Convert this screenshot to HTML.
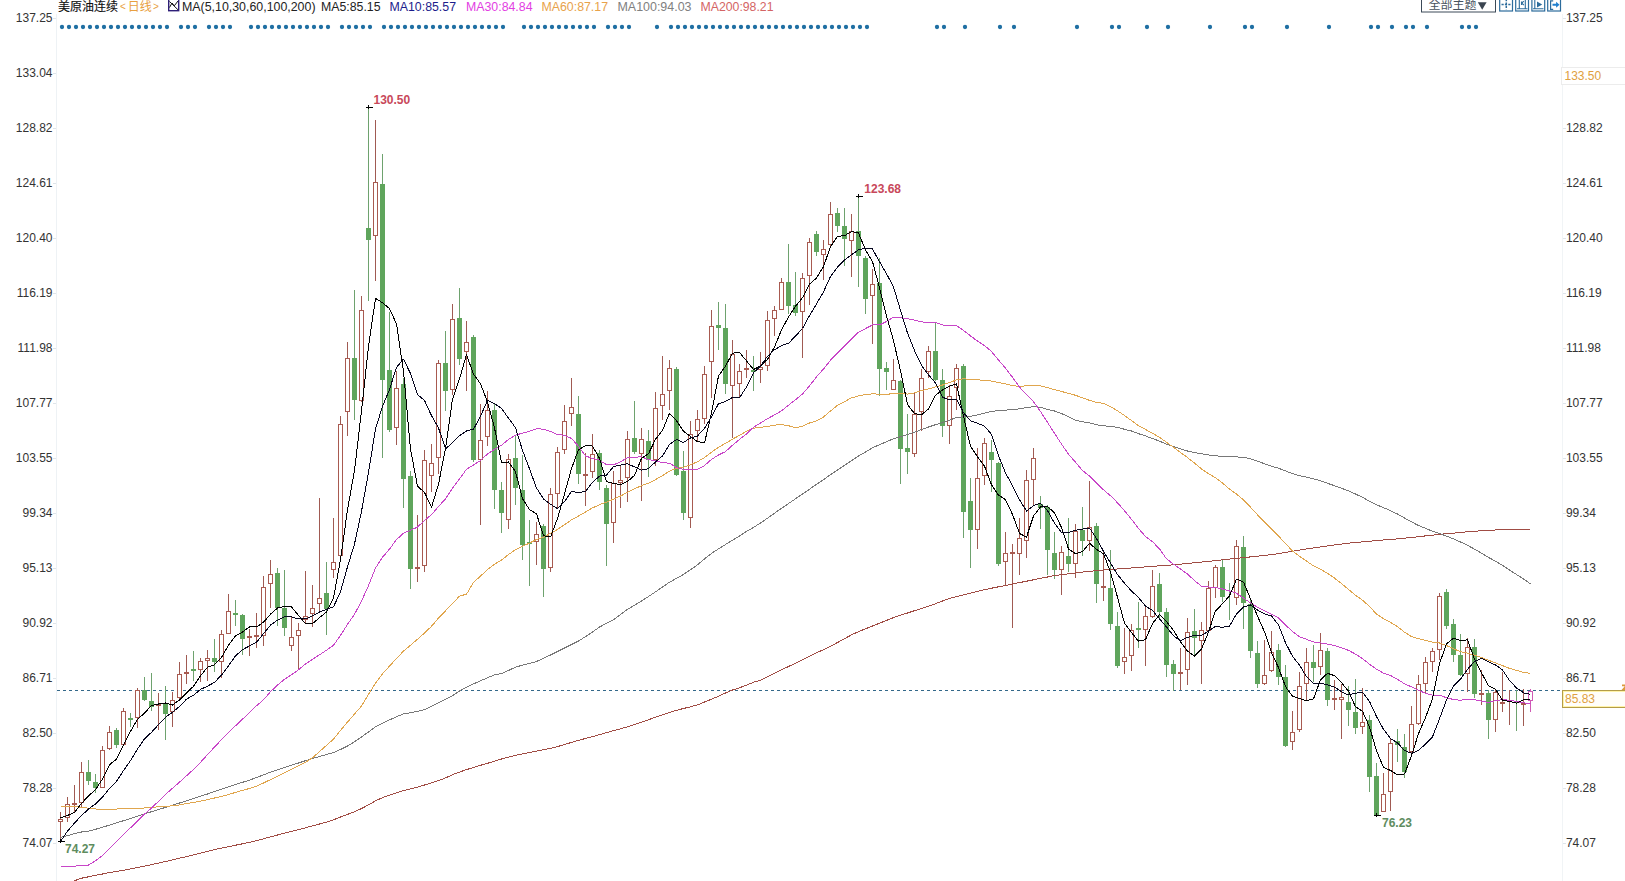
<!DOCTYPE html><html><head><meta charset="utf-8"><title>chart</title><style>
html,body{margin:0;padding:0;background:#fff;}body{width:1625px;height:881px;overflow:hidden;}svg{display:block;}
text{font-family:"Liberation Sans","Noto Sans CJK SC",sans-serif;font-size:12px;}
.ax{fill:#333;} .b{font-weight:bold;}
</style></head><body>
<svg width="1625" height="881" viewBox="0 0 1625 881">
<rect width="1625" height="881" fill="#fff"/>
<line x1="56.5" y1="14" x2="56.5" y2="881" stroke="#eef2f5" stroke-width="1"/>
<line x1="1562.5" y1="14" x2="1562.5" y2="881" stroke="#f1f4f6" stroke-width="1"/>
<text class="ax" x="52.5" y="22.3" text-anchor="end">137.25</text>
<line x1="53" y1="18.5" x2="56" y2="18.5" stroke="#dfe5ea"/>
<text class="ax" x="1565.9" y="22.3">137.25</text>
<line x1="1563" y1="18.5" x2="1566" y2="18.5" stroke="#dfe5ea"/>
<text class="ax" x="52.5" y="77.3" text-anchor="end">133.04</text>
<line x1="53" y1="73.5" x2="56" y2="73.5" stroke="#dfe5ea"/>
<text class="ax" x="52.5" y="132.3" text-anchor="end">128.82</text>
<line x1="53" y1="128.5" x2="56" y2="128.5" stroke="#dfe5ea"/>
<text class="ax" x="1565.9" y="132.3">128.82</text>
<line x1="1563" y1="128.5" x2="1566" y2="128.5" stroke="#dfe5ea"/>
<text class="ax" x="52.5" y="187.3" text-anchor="end">124.61</text>
<line x1="53" y1="183.5" x2="56" y2="183.5" stroke="#dfe5ea"/>
<text class="ax" x="1565.9" y="187.3">124.61</text>
<line x1="1563" y1="183.5" x2="1566" y2="183.5" stroke="#dfe5ea"/>
<text class="ax" x="52.5" y="242.3" text-anchor="end">120.40</text>
<line x1="53" y1="238.5" x2="56" y2="238.5" stroke="#dfe5ea"/>
<text class="ax" x="1565.9" y="242.3">120.40</text>
<line x1="1563" y1="238.5" x2="1566" y2="238.5" stroke="#dfe5ea"/>
<text class="ax" x="52.5" y="297.3" text-anchor="end">116.19</text>
<line x1="53" y1="293.5" x2="56" y2="293.5" stroke="#dfe5ea"/>
<text class="ax" x="1565.9" y="297.3">116.19</text>
<line x1="1563" y1="293.5" x2="1566" y2="293.5" stroke="#dfe5ea"/>
<text class="ax" x="52.5" y="352.3" text-anchor="end">111.98</text>
<line x1="53" y1="348.5" x2="56" y2="348.5" stroke="#dfe5ea"/>
<text class="ax" x="1565.9" y="352.3">111.98</text>
<line x1="1563" y1="348.5" x2="1566" y2="348.5" stroke="#dfe5ea"/>
<text class="ax" x="52.5" y="407.3" text-anchor="end">107.77</text>
<line x1="53" y1="403.5" x2="56" y2="403.5" stroke="#dfe5ea"/>
<text class="ax" x="1565.9" y="407.3">107.77</text>
<line x1="1563" y1="403.5" x2="1566" y2="403.5" stroke="#dfe5ea"/>
<text class="ax" x="52.5" y="462.3" text-anchor="end">103.55</text>
<line x1="53" y1="458.5" x2="56" y2="458.5" stroke="#dfe5ea"/>
<text class="ax" x="1565.9" y="462.3">103.55</text>
<line x1="1563" y1="458.5" x2="1566" y2="458.5" stroke="#dfe5ea"/>
<text class="ax" x="52.5" y="517.3" text-anchor="end">99.34</text>
<line x1="53" y1="513.5" x2="56" y2="513.5" stroke="#dfe5ea"/>
<text class="ax" x="1565.9" y="517.3">99.34</text>
<line x1="1563" y1="513.5" x2="1566" y2="513.5" stroke="#dfe5ea"/>
<text class="ax" x="52.5" y="572.3" text-anchor="end">95.13</text>
<line x1="53" y1="568.5" x2="56" y2="568.5" stroke="#dfe5ea"/>
<text class="ax" x="1565.9" y="572.3">95.13</text>
<line x1="1563" y1="568.5" x2="1566" y2="568.5" stroke="#dfe5ea"/>
<text class="ax" x="52.5" y="627.3" text-anchor="end">90.92</text>
<line x1="53" y1="623.5" x2="56" y2="623.5" stroke="#dfe5ea"/>
<text class="ax" x="1565.9" y="627.3">90.92</text>
<line x1="1563" y1="623.5" x2="1566" y2="623.5" stroke="#dfe5ea"/>
<text class="ax" x="52.5" y="682.3" text-anchor="end">86.71</text>
<line x1="53" y1="678.5" x2="56" y2="678.5" stroke="#dfe5ea"/>
<text class="ax" x="1565.9" y="682.3">86.71</text>
<line x1="1563" y1="678.5" x2="1566" y2="678.5" stroke="#dfe5ea"/>
<text class="ax" x="52.5" y="737.3" text-anchor="end">82.50</text>
<line x1="53" y1="733.5" x2="56" y2="733.5" stroke="#dfe5ea"/>
<text class="ax" x="1565.9" y="737.3">82.50</text>
<line x1="1563" y1="733.5" x2="1566" y2="733.5" stroke="#dfe5ea"/>
<text class="ax" x="52.5" y="792.3" text-anchor="end">78.28</text>
<line x1="53" y1="788.5" x2="56" y2="788.5" stroke="#dfe5ea"/>
<text class="ax" x="1565.9" y="792.3">78.28</text>
<line x1="1563" y1="788.5" x2="1566" y2="788.5" stroke="#dfe5ea"/>
<text class="ax" x="52.5" y="847.3" text-anchor="end">74.07</text>
<line x1="53" y1="843.5" x2="56" y2="843.5" stroke="#dfe5ea"/>
<text class="ax" x="1565.9" y="847.3">74.07</text>
<line x1="1563" y1="843.5" x2="1566" y2="843.5" stroke="#dfe5ea"/>
<rect x="1561.5" y="67.5" width="70" height="17" fill="#fff" stroke="#ececec"/>
<text x="1564.5" y="79.8" fill="#e0a040">133.50</text>
<circle cx="62" cy="27" r="2.15" fill="#1f6fa3"/>
<circle cx="69" cy="27" r="2.15" fill="#1f6fa3"/>
<circle cx="76" cy="27" r="2.15" fill="#1f6fa3"/>
<circle cx="83" cy="27" r="2.15" fill="#1f6fa3"/>
<circle cx="90" cy="27" r="2.15" fill="#1f6fa3"/>
<circle cx="97" cy="27" r="2.15" fill="#1f6fa3"/>
<circle cx="104" cy="27" r="2.15" fill="#1f6fa3"/>
<circle cx="111" cy="27" r="2.15" fill="#1f6fa3"/>
<circle cx="118" cy="27" r="2.15" fill="#1f6fa3"/>
<circle cx="125" cy="27" r="2.15" fill="#1f6fa3"/>
<circle cx="132" cy="27" r="2.15" fill="#1f6fa3"/>
<circle cx="139" cy="27" r="2.15" fill="#1f6fa3"/>
<circle cx="146" cy="27" r="2.15" fill="#1f6fa3"/>
<circle cx="153" cy="27" r="2.15" fill="#1f6fa3"/>
<circle cx="160" cy="27" r="2.15" fill="#1f6fa3"/>
<circle cx="167" cy="27" r="2.15" fill="#1f6fa3"/>
<circle cx="181" cy="27" r="2.15" fill="#1f6fa3"/>
<circle cx="188" cy="27" r="2.15" fill="#1f6fa3"/>
<circle cx="195" cy="27" r="2.15" fill="#1f6fa3"/>
<circle cx="209" cy="27" r="2.15" fill="#1f6fa3"/>
<circle cx="216" cy="27" r="2.15" fill="#1f6fa3"/>
<circle cx="223" cy="27" r="2.15" fill="#1f6fa3"/>
<circle cx="230" cy="27" r="2.15" fill="#1f6fa3"/>
<circle cx="251" cy="27" r="2.15" fill="#1f6fa3"/>
<circle cx="258" cy="27" r="2.15" fill="#1f6fa3"/>
<circle cx="265" cy="27" r="2.15" fill="#1f6fa3"/>
<circle cx="272" cy="27" r="2.15" fill="#1f6fa3"/>
<circle cx="279" cy="27" r="2.15" fill="#1f6fa3"/>
<circle cx="286" cy="27" r="2.15" fill="#1f6fa3"/>
<circle cx="293" cy="27" r="2.15" fill="#1f6fa3"/>
<circle cx="300" cy="27" r="2.15" fill="#1f6fa3"/>
<circle cx="307" cy="27" r="2.15" fill="#1f6fa3"/>
<circle cx="314" cy="27" r="2.15" fill="#1f6fa3"/>
<circle cx="321" cy="27" r="2.15" fill="#1f6fa3"/>
<circle cx="328" cy="27" r="2.15" fill="#1f6fa3"/>
<circle cx="342" cy="27" r="2.15" fill="#1f6fa3"/>
<circle cx="349" cy="27" r="2.15" fill="#1f6fa3"/>
<circle cx="356" cy="27" r="2.15" fill="#1f6fa3"/>
<circle cx="363" cy="27" r="2.15" fill="#1f6fa3"/>
<circle cx="370" cy="27" r="2.15" fill="#1f6fa3"/>
<circle cx="384" cy="27" r="2.15" fill="#1f6fa3"/>
<circle cx="391" cy="27" r="2.15" fill="#1f6fa3"/>
<circle cx="398" cy="27" r="2.15" fill="#1f6fa3"/>
<circle cx="405" cy="27" r="2.15" fill="#1f6fa3"/>
<circle cx="412" cy="27" r="2.15" fill="#1f6fa3"/>
<circle cx="419" cy="27" r="2.15" fill="#1f6fa3"/>
<circle cx="426" cy="27" r="2.15" fill="#1f6fa3"/>
<circle cx="433" cy="27" r="2.15" fill="#1f6fa3"/>
<circle cx="440" cy="27" r="2.15" fill="#1f6fa3"/>
<circle cx="447" cy="27" r="2.15" fill="#1f6fa3"/>
<circle cx="454" cy="27" r="2.15" fill="#1f6fa3"/>
<circle cx="461" cy="27" r="2.15" fill="#1f6fa3"/>
<circle cx="468" cy="27" r="2.15" fill="#1f6fa3"/>
<circle cx="475" cy="27" r="2.15" fill="#1f6fa3"/>
<circle cx="482" cy="27" r="2.15" fill="#1f6fa3"/>
<circle cx="489" cy="27" r="2.15" fill="#1f6fa3"/>
<circle cx="496" cy="27" r="2.15" fill="#1f6fa3"/>
<circle cx="503" cy="27" r="2.15" fill="#1f6fa3"/>
<circle cx="524" cy="27" r="2.15" fill="#1f6fa3"/>
<circle cx="531" cy="27" r="2.15" fill="#1f6fa3"/>
<circle cx="538" cy="27" r="2.15" fill="#1f6fa3"/>
<circle cx="545" cy="27" r="2.15" fill="#1f6fa3"/>
<circle cx="552" cy="27" r="2.15" fill="#1f6fa3"/>
<circle cx="559" cy="27" r="2.15" fill="#1f6fa3"/>
<circle cx="566" cy="27" r="2.15" fill="#1f6fa3"/>
<circle cx="573" cy="27" r="2.15" fill="#1f6fa3"/>
<circle cx="580" cy="27" r="2.15" fill="#1f6fa3"/>
<circle cx="587" cy="27" r="2.15" fill="#1f6fa3"/>
<circle cx="594" cy="27" r="2.15" fill="#1f6fa3"/>
<circle cx="608" cy="27" r="2.15" fill="#1f6fa3"/>
<circle cx="615" cy="27" r="2.15" fill="#1f6fa3"/>
<circle cx="622" cy="27" r="2.15" fill="#1f6fa3"/>
<circle cx="629" cy="27" r="2.15" fill="#1f6fa3"/>
<circle cx="657" cy="27" r="2.15" fill="#1f6fa3"/>
<circle cx="671" cy="27" r="2.15" fill="#1f6fa3"/>
<circle cx="678" cy="27" r="2.15" fill="#1f6fa3"/>
<circle cx="685" cy="27" r="2.15" fill="#1f6fa3"/>
<circle cx="692" cy="27" r="2.15" fill="#1f6fa3"/>
<circle cx="699" cy="27" r="2.15" fill="#1f6fa3"/>
<circle cx="706" cy="27" r="2.15" fill="#1f6fa3"/>
<circle cx="713" cy="27" r="2.15" fill="#1f6fa3"/>
<circle cx="720" cy="27" r="2.15" fill="#1f6fa3"/>
<circle cx="727" cy="27" r="2.15" fill="#1f6fa3"/>
<circle cx="734" cy="27" r="2.15" fill="#1f6fa3"/>
<circle cx="741" cy="27" r="2.15" fill="#1f6fa3"/>
<circle cx="748" cy="27" r="2.15" fill="#1f6fa3"/>
<circle cx="755" cy="27" r="2.15" fill="#1f6fa3"/>
<circle cx="762" cy="27" r="2.15" fill="#1f6fa3"/>
<circle cx="769" cy="27" r="2.15" fill="#1f6fa3"/>
<circle cx="776" cy="27" r="2.15" fill="#1f6fa3"/>
<circle cx="783" cy="27" r="2.15" fill="#1f6fa3"/>
<circle cx="790" cy="27" r="2.15" fill="#1f6fa3"/>
<circle cx="797" cy="27" r="2.15" fill="#1f6fa3"/>
<circle cx="804" cy="27" r="2.15" fill="#1f6fa3"/>
<circle cx="811" cy="27" r="2.15" fill="#1f6fa3"/>
<circle cx="818" cy="27" r="2.15" fill="#1f6fa3"/>
<circle cx="825" cy="27" r="2.15" fill="#1f6fa3"/>
<circle cx="832" cy="27" r="2.15" fill="#1f6fa3"/>
<circle cx="839" cy="27" r="2.15" fill="#1f6fa3"/>
<circle cx="846" cy="27" r="2.15" fill="#1f6fa3"/>
<circle cx="853" cy="27" r="2.15" fill="#1f6fa3"/>
<circle cx="860" cy="27" r="2.15" fill="#1f6fa3"/>
<circle cx="867" cy="27" r="2.15" fill="#1f6fa3"/>
<circle cx="937" cy="27" r="2.15" fill="#1f6fa3"/>
<circle cx="944" cy="27" r="2.15" fill="#1f6fa3"/>
<circle cx="965" cy="27" r="2.15" fill="#1f6fa3"/>
<circle cx="1000" cy="27" r="2.15" fill="#1f6fa3"/>
<circle cx="1014" cy="27" r="2.15" fill="#1f6fa3"/>
<circle cx="1077" cy="27" r="2.15" fill="#1f6fa3"/>
<circle cx="1112" cy="27" r="2.15" fill="#1f6fa3"/>
<circle cx="1119" cy="27" r="2.15" fill="#1f6fa3"/>
<circle cx="1147" cy="27" r="2.15" fill="#1f6fa3"/>
<circle cx="1168" cy="27" r="2.15" fill="#1f6fa3"/>
<circle cx="1210" cy="27" r="2.15" fill="#1f6fa3"/>
<circle cx="1245" cy="27" r="2.15" fill="#1f6fa3"/>
<circle cx="1252" cy="27" r="2.15" fill="#1f6fa3"/>
<circle cx="1287" cy="27" r="2.15" fill="#1f6fa3"/>
<circle cx="1329" cy="27" r="2.15" fill="#1f6fa3"/>
<circle cx="1371" cy="27" r="2.15" fill="#1f6fa3"/>
<circle cx="1378" cy="27" r="2.15" fill="#1f6fa3"/>
<circle cx="1392" cy="27" r="2.15" fill="#1f6fa3"/>
<circle cx="1406" cy="27" r="2.15" fill="#1f6fa3"/>
<circle cx="1413" cy="27" r="2.15" fill="#1f6fa3"/>
<circle cx="1427" cy="27" r="2.15" fill="#1f6fa3"/>
<circle cx="1462" cy="27" r="2.15" fill="#1f6fa3"/>
<circle cx="1469" cy="27" r="2.15" fill="#1f6fa3"/>
<circle cx="1476" cy="27" r="2.15" fill="#1f6fa3"/>
<line x1="57" y1="690.5" x2="1562" y2="690.5" stroke="#33688a" stroke-width="1" stroke-dasharray="3,3" shape-rendering="crispEdges"/>
<line x1="60.5" y1="812" x2="60.5" y2="819" stroke="#a05a52" stroke-width="1"/>
<line x1="60.5" y1="822" x2="60.5" y2="841" stroke="#a05a52" stroke-width="1"/>
<rect x="58.5" y="819.5" width="4" height="2" fill="#fff" stroke="#a85a50" stroke-width="1"/>
<line x1="67.5" y1="797" x2="67.5" y2="804" stroke="#a05a52" stroke-width="1"/>
<line x1="67.5" y1="818" x2="67.5" y2="822" stroke="#a05a52" stroke-width="1"/>
<rect x="65.5" y="804.5" width="4" height="13" fill="#fff" stroke="#a85a50" stroke-width="1"/>
<line x1="74.5" y1="785" x2="74.5" y2="812" stroke="#a05a52" stroke-width="1"/>
<rect x="72.0" y="803" width="5" height="2" fill="#a85a50"/>
<line x1="81.5" y1="762" x2="81.5" y2="772" stroke="#a05a52" stroke-width="1"/>
<line x1="81.5" y1="803" x2="81.5" y2="808" stroke="#a05a52" stroke-width="1"/>
<rect x="79.5" y="772.5" width="4" height="30" fill="#fff" stroke="#a85a50" stroke-width="1"/>
<line x1="88.5" y1="760" x2="88.5" y2="785" stroke="#6ea26e" stroke-width="1"/>
<rect x="86.0" y="772" width="5" height="9" fill="#5fa55c"/>
<line x1="95.5" y1="774" x2="95.5" y2="793" stroke="#6ea26e" stroke-width="1"/>
<rect x="93.0" y="782" width="5" height="6" fill="#5fa55c"/>
<line x1="102.5" y1="746" x2="102.5" y2="750" stroke="#a05a52" stroke-width="1"/>
<rect x="100.5" y="750.5" width="4" height="37" fill="#fff" stroke="#a85a50" stroke-width="1"/>
<line x1="109.5" y1="726" x2="109.5" y2="732" stroke="#a05a52" stroke-width="1"/>
<line x1="109.5" y1="749" x2="109.5" y2="750" stroke="#a05a52" stroke-width="1"/>
<rect x="107.5" y="732.5" width="4" height="16" fill="#fff" stroke="#a85a50" stroke-width="1"/>
<line x1="116.5" y1="728" x2="116.5" y2="748" stroke="#6ea26e" stroke-width="1"/>
<rect x="114.0" y="730" width="5" height="15" fill="#5fa55c"/>
<line x1="123.5" y1="708" x2="123.5" y2="711" stroke="#a05a52" stroke-width="1"/>
<rect x="121.5" y="711.5" width="4" height="33" fill="#fff" stroke="#a85a50" stroke-width="1"/>
<line x1="130.5" y1="713" x2="130.5" y2="727" stroke="#6ea26e" stroke-width="1"/>
<rect x="128.0" y="718" width="5" height="2" fill="#5fa55c"/>
<line x1="137.5" y1="688" x2="137.5" y2="690" stroke="#a05a52" stroke-width="1"/>
<line x1="137.5" y1="718" x2="137.5" y2="728" stroke="#a05a52" stroke-width="1"/>
<rect x="135.5" y="690.5" width="4" height="27" fill="#fff" stroke="#a85a50" stroke-width="1"/>
<line x1="144.5" y1="677" x2="144.5" y2="701" stroke="#6ea26e" stroke-width="1"/>
<rect x="142.0" y="690" width="5" height="10" fill="#5fa55c"/>
<line x1="151.5" y1="673" x2="151.5" y2="711" stroke="#6ea26e" stroke-width="1"/>
<rect x="149.0" y="701" width="5" height="6" fill="#5fa55c"/>
<line x1="158.5" y1="693" x2="158.5" y2="730" stroke="#a05a52" stroke-width="1"/>
<rect x="156.0" y="704" width="5" height="2" fill="#a85a50"/>
<line x1="165.5" y1="686" x2="165.5" y2="740" stroke="#6ea26e" stroke-width="1"/>
<rect x="163.0" y="704" width="5" height="10" fill="#5fa55c"/>
<line x1="172.5" y1="692" x2="172.5" y2="700" stroke="#a05a52" stroke-width="1"/>
<line x1="172.5" y1="712" x2="172.5" y2="727" stroke="#a05a52" stroke-width="1"/>
<rect x="170.5" y="700.5" width="4" height="11" fill="#fff" stroke="#a85a50" stroke-width="1"/>
<line x1="179.5" y1="662" x2="179.5" y2="674" stroke="#a05a52" stroke-width="1"/>
<line x1="179.5" y1="698" x2="179.5" y2="699" stroke="#a05a52" stroke-width="1"/>
<rect x="177.5" y="674.5" width="4" height="23" fill="#fff" stroke="#a85a50" stroke-width="1"/>
<line x1="186.5" y1="655" x2="186.5" y2="684" stroke="#a05a52" stroke-width="1"/>
<rect x="184.0" y="672" width="5" height="2" fill="#a85a50"/>
<line x1="193.5" y1="651" x2="193.5" y2="681" stroke="#6ea26e" stroke-width="1"/>
<rect x="191.0" y="669" width="5" height="2" fill="#5fa55c"/>
<line x1="200.5" y1="658" x2="200.5" y2="661" stroke="#a05a52" stroke-width="1"/>
<line x1="200.5" y1="670" x2="200.5" y2="682" stroke="#a05a52" stroke-width="1"/>
<rect x="198.5" y="661.5" width="4" height="8" fill="#fff" stroke="#a85a50" stroke-width="1"/>
<line x1="207.5" y1="650" x2="207.5" y2="658" stroke="#a05a52" stroke-width="1"/>
<line x1="207.5" y1="661" x2="207.5" y2="681" stroke="#a05a52" stroke-width="1"/>
<rect x="205.5" y="658.5" width="4" height="2" fill="#fff" stroke="#a85a50" stroke-width="1"/>
<line x1="214.5" y1="639" x2="214.5" y2="672" stroke="#6ea26e" stroke-width="1"/>
<rect x="212.0" y="658" width="5" height="4" fill="#5fa55c"/>
<line x1="221.5" y1="630" x2="221.5" y2="634" stroke="#a05a52" stroke-width="1"/>
<line x1="221.5" y1="662" x2="221.5" y2="678" stroke="#a05a52" stroke-width="1"/>
<rect x="219.5" y="634.5" width="4" height="27" fill="#fff" stroke="#a85a50" stroke-width="1"/>
<line x1="228.5" y1="594" x2="228.5" y2="611" stroke="#a05a52" stroke-width="1"/>
<rect x="226.5" y="611.5" width="4" height="22" fill="#fff" stroke="#a85a50" stroke-width="1"/>
<line x1="235.5" y1="600" x2="235.5" y2="626" stroke="#6ea26e" stroke-width="1"/>
<rect x="233.0" y="613" width="5" height="2" fill="#5fa55c"/>
<line x1="242.5" y1="614" x2="242.5" y2="655" stroke="#6ea26e" stroke-width="1"/>
<rect x="240.0" y="615" width="5" height="24" fill="#5fa55c"/>
<line x1="249.5" y1="629" x2="249.5" y2="656" stroke="#a05a52" stroke-width="1"/>
<rect x="247.0" y="636" width="5" height="2" fill="#a85a50"/>
<line x1="256.5" y1="613" x2="256.5" y2="648" stroke="#a05a52" stroke-width="1"/>
<rect x="254.0" y="635" width="5" height="2" fill="#a85a50"/>
<line x1="263.5" y1="576" x2="263.5" y2="587" stroke="#a05a52" stroke-width="1"/>
<line x1="263.5" y1="636" x2="263.5" y2="646" stroke="#a05a52" stroke-width="1"/>
<rect x="261.5" y="587.5" width="4" height="48" fill="#fff" stroke="#a85a50" stroke-width="1"/>
<line x1="270.5" y1="560" x2="270.5" y2="574" stroke="#a05a52" stroke-width="1"/>
<line x1="270.5" y1="584" x2="270.5" y2="608" stroke="#a05a52" stroke-width="1"/>
<rect x="268.5" y="574.5" width="4" height="9" fill="#fff" stroke="#a85a50" stroke-width="1"/>
<line x1="277.5" y1="568" x2="277.5" y2="626" stroke="#6ea26e" stroke-width="1"/>
<rect x="275.0" y="573" width="5" height="35" fill="#5fa55c"/>
<line x1="284.5" y1="570" x2="284.5" y2="636" stroke="#6ea26e" stroke-width="1"/>
<rect x="282.0" y="608" width="5" height="20" fill="#5fa55c"/>
<line x1="291.5" y1="617" x2="291.5" y2="637" stroke="#a05a52" stroke-width="1"/>
<line x1="291.5" y1="646" x2="291.5" y2="651" stroke="#a05a52" stroke-width="1"/>
<rect x="289.5" y="637.5" width="4" height="8" fill="#fff" stroke="#a85a50" stroke-width="1"/>
<line x1="298.5" y1="623" x2="298.5" y2="630" stroke="#a05a52" stroke-width="1"/>
<line x1="298.5" y1="636" x2="298.5" y2="670" stroke="#a05a52" stroke-width="1"/>
<rect x="296.5" y="630.5" width="4" height="5" fill="#fff" stroke="#a85a50" stroke-width="1"/>
<line x1="305.5" y1="571" x2="305.5" y2="616" stroke="#a05a52" stroke-width="1"/>
<line x1="305.5" y1="620" x2="305.5" y2="624" stroke="#a05a52" stroke-width="1"/>
<rect x="303.5" y="616.5" width="4" height="3" fill="#fff" stroke="#a85a50" stroke-width="1"/>
<line x1="312.5" y1="585" x2="312.5" y2="608" stroke="#a05a52" stroke-width="1"/>
<line x1="312.5" y1="614" x2="312.5" y2="627" stroke="#a05a52" stroke-width="1"/>
<rect x="310.5" y="608.5" width="4" height="5" fill="#fff" stroke="#a85a50" stroke-width="1"/>
<line x1="319.5" y1="498" x2="319.5" y2="598" stroke="#a05a52" stroke-width="1"/>
<line x1="319.5" y1="604" x2="319.5" y2="612" stroke="#a05a52" stroke-width="1"/>
<rect x="317.5" y="598.5" width="4" height="5" fill="#fff" stroke="#a85a50" stroke-width="1"/>
<line x1="326.5" y1="562" x2="326.5" y2="635" stroke="#6ea26e" stroke-width="1"/>
<rect x="324.0" y="593" width="5" height="16" fill="#5fa55c"/>
<line x1="333.5" y1="518" x2="333.5" y2="562" stroke="#a05a52" stroke-width="1"/>
<line x1="333.5" y1="570" x2="333.5" y2="578" stroke="#a05a52" stroke-width="1"/>
<rect x="331.5" y="562.5" width="4" height="7" fill="#fff" stroke="#a85a50" stroke-width="1"/>
<line x1="340.5" y1="416" x2="340.5" y2="424" stroke="#a05a52" stroke-width="1"/>
<rect x="338.5" y="424.5" width="4" height="131" fill="#fff" stroke="#a85a50" stroke-width="1"/>
<line x1="347.5" y1="342" x2="347.5" y2="358" stroke="#a05a52" stroke-width="1"/>
<line x1="347.5" y1="412" x2="347.5" y2="436" stroke="#a05a52" stroke-width="1"/>
<rect x="345.5" y="358.5" width="4" height="53" fill="#fff" stroke="#a85a50" stroke-width="1"/>
<line x1="354.5" y1="290" x2="354.5" y2="420" stroke="#6ea26e" stroke-width="1"/>
<rect x="352.0" y="358" width="5" height="42" fill="#5fa55c"/>
<line x1="361.5" y1="296" x2="361.5" y2="310" stroke="#a05a52" stroke-width="1"/>
<line x1="361.5" y1="401" x2="361.5" y2="402" stroke="#a05a52" stroke-width="1"/>
<rect x="359.5" y="310.5" width="4" height="90" fill="#fff" stroke="#a85a50" stroke-width="1"/>
<line x1="368.5" y1="108" x2="368.5" y2="301" stroke="#6ea26e" stroke-width="1"/>
<rect x="366.0" y="228" width="5" height="12" fill="#5fa55c"/>
<line x1="375.5" y1="120" x2="375.5" y2="182" stroke="#a05a52" stroke-width="1"/>
<line x1="375.5" y1="236" x2="375.5" y2="281" stroke="#a05a52" stroke-width="1"/>
<rect x="373.5" y="182.5" width="4" height="53" fill="#fff" stroke="#a85a50" stroke-width="1"/>
<line x1="382.5" y1="154" x2="382.5" y2="458" stroke="#6ea26e" stroke-width="1"/>
<rect x="380.0" y="184" width="5" height="196" fill="#5fa55c"/>
<line x1="389.5" y1="312" x2="389.5" y2="432" stroke="#6ea26e" stroke-width="1"/>
<rect x="387.0" y="370" width="5" height="60" fill="#5fa55c"/>
<line x1="396.5" y1="371" x2="396.5" y2="388" stroke="#a05a52" stroke-width="1"/>
<line x1="396.5" y1="428" x2="396.5" y2="445" stroke="#a05a52" stroke-width="1"/>
<rect x="394.5" y="388.5" width="4" height="39" fill="#fff" stroke="#a85a50" stroke-width="1"/>
<line x1="403.5" y1="378" x2="403.5" y2="508" stroke="#6ea26e" stroke-width="1"/>
<rect x="401.0" y="384" width="5" height="95" fill="#5fa55c"/>
<line x1="410.5" y1="471" x2="410.5" y2="589" stroke="#6ea26e" stroke-width="1"/>
<rect x="408.0" y="476" width="5" height="93" fill="#5fa55c"/>
<line x1="417.5" y1="515" x2="417.5" y2="582" stroke="#a05a52" stroke-width="1"/>
<rect x="415.0" y="567" width="5" height="2" fill="#a85a50"/>
<line x1="424.5" y1="450" x2="424.5" y2="460" stroke="#a05a52" stroke-width="1"/>
<line x1="424.5" y1="566" x2="424.5" y2="572" stroke="#a05a52" stroke-width="1"/>
<rect x="422.5" y="460.5" width="4" height="105" fill="#fff" stroke="#a85a50" stroke-width="1"/>
<line x1="431.5" y1="444" x2="431.5" y2="463" stroke="#a05a52" stroke-width="1"/>
<line x1="431.5" y1="476" x2="431.5" y2="492" stroke="#a05a52" stroke-width="1"/>
<rect x="429.5" y="463.5" width="4" height="12" fill="#fff" stroke="#a85a50" stroke-width="1"/>
<line x1="438.5" y1="360" x2="438.5" y2="363" stroke="#a05a52" stroke-width="1"/>
<line x1="438.5" y1="458" x2="438.5" y2="474" stroke="#a05a52" stroke-width="1"/>
<rect x="436.5" y="363.5" width="4" height="94" fill="#fff" stroke="#a85a50" stroke-width="1"/>
<line x1="445.5" y1="331" x2="445.5" y2="411" stroke="#6ea26e" stroke-width="1"/>
<rect x="443.0" y="363" width="5" height="28" fill="#5fa55c"/>
<line x1="452.5" y1="304" x2="452.5" y2="319" stroke="#a05a52" stroke-width="1"/>
<line x1="452.5" y1="390" x2="452.5" y2="395" stroke="#a05a52" stroke-width="1"/>
<rect x="450.5" y="319.5" width="4" height="70" fill="#fff" stroke="#a85a50" stroke-width="1"/>
<line x1="459.5" y1="288" x2="459.5" y2="365" stroke="#6ea26e" stroke-width="1"/>
<rect x="457.0" y="318" width="5" height="41" fill="#5fa55c"/>
<line x1="466.5" y1="321" x2="466.5" y2="342" stroke="#a05a52" stroke-width="1"/>
<line x1="466.5" y1="352" x2="466.5" y2="391" stroke="#a05a52" stroke-width="1"/>
<rect x="464.5" y="342.5" width="4" height="9" fill="#fff" stroke="#a85a50" stroke-width="1"/>
<line x1="473.5" y1="335" x2="473.5" y2="462" stroke="#6ea26e" stroke-width="1"/>
<rect x="471.0" y="337" width="5" height="123" fill="#5fa55c"/>
<line x1="480.5" y1="404" x2="480.5" y2="440" stroke="#a05a52" stroke-width="1"/>
<line x1="480.5" y1="460" x2="480.5" y2="525" stroke="#a05a52" stroke-width="1"/>
<rect x="478.5" y="440.5" width="4" height="19" fill="#fff" stroke="#a85a50" stroke-width="1"/>
<line x1="487.5" y1="391" x2="487.5" y2="410" stroke="#a05a52" stroke-width="1"/>
<line x1="487.5" y1="437" x2="487.5" y2="446" stroke="#a05a52" stroke-width="1"/>
<rect x="485.5" y="410.5" width="4" height="26" fill="#fff" stroke="#a85a50" stroke-width="1"/>
<line x1="494.5" y1="404" x2="494.5" y2="509" stroke="#6ea26e" stroke-width="1"/>
<rect x="492.0" y="410" width="5" height="80" fill="#5fa55c"/>
<line x1="501.5" y1="482" x2="501.5" y2="533" stroke="#6ea26e" stroke-width="1"/>
<rect x="499.0" y="490" width="5" height="23" fill="#5fa55c"/>
<line x1="508.5" y1="454" x2="508.5" y2="459" stroke="#a05a52" stroke-width="1"/>
<line x1="508.5" y1="520" x2="508.5" y2="529" stroke="#a05a52" stroke-width="1"/>
<rect x="506.5" y="459.5" width="4" height="60" fill="#fff" stroke="#a85a50" stroke-width="1"/>
<line x1="515.5" y1="435" x2="515.5" y2="505" stroke="#6ea26e" stroke-width="1"/>
<rect x="513.0" y="458" width="5" height="30" fill="#5fa55c"/>
<line x1="522.5" y1="455" x2="522.5" y2="560" stroke="#6ea26e" stroke-width="1"/>
<rect x="520.0" y="490" width="5" height="55" fill="#5fa55c"/>
<line x1="529.5" y1="520" x2="529.5" y2="586" stroke="#6ea26e" stroke-width="1"/>
<rect x="527.0" y="542" width="5" height="2" fill="#5fa55c"/>
<line x1="536.5" y1="522" x2="536.5" y2="534" stroke="#a05a52" stroke-width="1"/>
<line x1="536.5" y1="542" x2="536.5" y2="565" stroke="#a05a52" stroke-width="1"/>
<rect x="534.5" y="534.5" width="4" height="7" fill="#fff" stroke="#a85a50" stroke-width="1"/>
<line x1="543.5" y1="524" x2="543.5" y2="597" stroke="#6ea26e" stroke-width="1"/>
<rect x="541.0" y="526" width="5" height="43" fill="#5fa55c"/>
<line x1="550.5" y1="488" x2="550.5" y2="494" stroke="#a05a52" stroke-width="1"/>
<line x1="550.5" y1="568" x2="550.5" y2="572" stroke="#a05a52" stroke-width="1"/>
<rect x="548.5" y="494.5" width="4" height="73" fill="#fff" stroke="#a85a50" stroke-width="1"/>
<line x1="557.5" y1="447" x2="557.5" y2="452" stroke="#a05a52" stroke-width="1"/>
<line x1="557.5" y1="494" x2="557.5" y2="509" stroke="#a05a52" stroke-width="1"/>
<rect x="555.5" y="452.5" width="4" height="41" fill="#fff" stroke="#a85a50" stroke-width="1"/>
<line x1="564.5" y1="405" x2="564.5" y2="421" stroke="#a05a52" stroke-width="1"/>
<line x1="564.5" y1="450" x2="564.5" y2="454" stroke="#a05a52" stroke-width="1"/>
<rect x="562.5" y="421.5" width="4" height="28" fill="#fff" stroke="#a85a50" stroke-width="1"/>
<line x1="571.5" y1="378" x2="571.5" y2="407" stroke="#a05a52" stroke-width="1"/>
<line x1="571.5" y1="414" x2="571.5" y2="426" stroke="#a05a52" stroke-width="1"/>
<rect x="569.5" y="407.5" width="4" height="6" fill="#fff" stroke="#a85a50" stroke-width="1"/>
<line x1="578.5" y1="396" x2="578.5" y2="484" stroke="#6ea26e" stroke-width="1"/>
<rect x="576.0" y="414" width="5" height="60" fill="#5fa55c"/>
<line x1="585.5" y1="453" x2="585.5" y2="506" stroke="#a05a52" stroke-width="1"/>
<rect x="583.0" y="474" width="5" height="2" fill="#a85a50"/>
<line x1="592.5" y1="434" x2="592.5" y2="454" stroke="#a05a52" stroke-width="1"/>
<line x1="592.5" y1="472" x2="592.5" y2="478" stroke="#a05a52" stroke-width="1"/>
<rect x="590.5" y="454.5" width="4" height="17" fill="#fff" stroke="#a85a50" stroke-width="1"/>
<line x1="599.5" y1="450" x2="599.5" y2="490" stroke="#6ea26e" stroke-width="1"/>
<rect x="597.0" y="453" width="5" height="29" fill="#5fa55c"/>
<line x1="606.5" y1="485" x2="606.5" y2="566" stroke="#6ea26e" stroke-width="1"/>
<rect x="604.0" y="488" width="5" height="36" fill="#5fa55c"/>
<line x1="613.5" y1="471" x2="613.5" y2="483" stroke="#a05a52" stroke-width="1"/>
<line x1="613.5" y1="523" x2="613.5" y2="543" stroke="#a05a52" stroke-width="1"/>
<rect x="611.5" y="483.5" width="4" height="39" fill="#fff" stroke="#a85a50" stroke-width="1"/>
<line x1="620.5" y1="465" x2="620.5" y2="480" stroke="#a05a52" stroke-width="1"/>
<line x1="620.5" y1="483" x2="620.5" y2="508" stroke="#a05a52" stroke-width="1"/>
<rect x="618.5" y="480.5" width="4" height="2" fill="#fff" stroke="#a85a50" stroke-width="1"/>
<line x1="627.5" y1="431" x2="627.5" y2="439" stroke="#a05a52" stroke-width="1"/>
<line x1="627.5" y1="478" x2="627.5" y2="502" stroke="#a05a52" stroke-width="1"/>
<rect x="625.5" y="439.5" width="4" height="38" fill="#fff" stroke="#a85a50" stroke-width="1"/>
<line x1="634.5" y1="401" x2="634.5" y2="454" stroke="#6ea26e" stroke-width="1"/>
<rect x="632.0" y="438" width="5" height="14" fill="#5fa55c"/>
<line x1="641.5" y1="428" x2="641.5" y2="439" stroke="#a05a52" stroke-width="1"/>
<line x1="641.5" y1="454" x2="641.5" y2="501" stroke="#a05a52" stroke-width="1"/>
<rect x="639.5" y="439.5" width="4" height="14" fill="#fff" stroke="#a85a50" stroke-width="1"/>
<line x1="648.5" y1="430" x2="648.5" y2="477" stroke="#6ea26e" stroke-width="1"/>
<rect x="646.0" y="441" width="5" height="19" fill="#5fa55c"/>
<line x1="655.5" y1="392" x2="655.5" y2="408" stroke="#a05a52" stroke-width="1"/>
<line x1="655.5" y1="460" x2="655.5" y2="466" stroke="#a05a52" stroke-width="1"/>
<rect x="653.5" y="408.5" width="4" height="51" fill="#fff" stroke="#a85a50" stroke-width="1"/>
<line x1="662.5" y1="356" x2="662.5" y2="394" stroke="#a05a52" stroke-width="1"/>
<line x1="662.5" y1="406" x2="662.5" y2="420" stroke="#a05a52" stroke-width="1"/>
<rect x="660.5" y="394.5" width="4" height="11" fill="#fff" stroke="#a85a50" stroke-width="1"/>
<line x1="669.5" y1="360" x2="669.5" y2="368" stroke="#a05a52" stroke-width="1"/>
<line x1="669.5" y1="391" x2="669.5" y2="410" stroke="#a05a52" stroke-width="1"/>
<rect x="667.5" y="368.5" width="4" height="22" fill="#fff" stroke="#a85a50" stroke-width="1"/>
<line x1="676.5" y1="367" x2="676.5" y2="476" stroke="#6ea26e" stroke-width="1"/>
<rect x="674.0" y="369" width="5" height="106" fill="#5fa55c"/>
<line x1="683.5" y1="451" x2="683.5" y2="520" stroke="#6ea26e" stroke-width="1"/>
<rect x="681.0" y="471" width="5" height="42" fill="#5fa55c"/>
<line x1="690.5" y1="421" x2="690.5" y2="434" stroke="#a05a52" stroke-width="1"/>
<line x1="690.5" y1="518" x2="690.5" y2="528" stroke="#a05a52" stroke-width="1"/>
<rect x="688.5" y="434.5" width="4" height="83" fill="#fff" stroke="#a85a50" stroke-width="1"/>
<line x1="697.5" y1="410" x2="697.5" y2="419" stroke="#a05a52" stroke-width="1"/>
<line x1="697.5" y1="431" x2="697.5" y2="442" stroke="#a05a52" stroke-width="1"/>
<rect x="695.5" y="419.5" width="4" height="11" fill="#fff" stroke="#a85a50" stroke-width="1"/>
<line x1="704.5" y1="366" x2="704.5" y2="374" stroke="#a05a52" stroke-width="1"/>
<line x1="704.5" y1="419" x2="704.5" y2="424" stroke="#a05a52" stroke-width="1"/>
<rect x="702.5" y="374.5" width="4" height="44" fill="#fff" stroke="#a85a50" stroke-width="1"/>
<line x1="711.5" y1="310" x2="711.5" y2="326" stroke="#a05a52" stroke-width="1"/>
<line x1="711.5" y1="362" x2="711.5" y2="398" stroke="#a05a52" stroke-width="1"/>
<rect x="709.5" y="326.5" width="4" height="35" fill="#fff" stroke="#a85a50" stroke-width="1"/>
<line x1="718.5" y1="302" x2="718.5" y2="350" stroke="#6ea26e" stroke-width="1"/>
<rect x="716.0" y="325" width="5" height="3" fill="#5fa55c"/>
<line x1="725.5" y1="304" x2="725.5" y2="394" stroke="#6ea26e" stroke-width="1"/>
<rect x="723.0" y="328" width="5" height="56" fill="#5fa55c"/>
<line x1="732.5" y1="340" x2="732.5" y2="354" stroke="#a05a52" stroke-width="1"/>
<line x1="732.5" y1="386" x2="732.5" y2="438" stroke="#a05a52" stroke-width="1"/>
<rect x="730.5" y="354.5" width="4" height="31" fill="#fff" stroke="#a85a50" stroke-width="1"/>
<line x1="739.5" y1="364" x2="739.5" y2="371" stroke="#a05a52" stroke-width="1"/>
<line x1="739.5" y1="384" x2="739.5" y2="398" stroke="#a05a52" stroke-width="1"/>
<rect x="737.5" y="371.5" width="4" height="12" fill="#fff" stroke="#a85a50" stroke-width="1"/>
<line x1="746.5" y1="350" x2="746.5" y2="378" stroke="#a05a52" stroke-width="1"/>
<rect x="744.0" y="368" width="5" height="2" fill="#a85a50"/>
<line x1="753.5" y1="356" x2="753.5" y2="391" stroke="#6ea26e" stroke-width="1"/>
<rect x="751.0" y="370" width="5" height="2" fill="#5fa55c"/>
<line x1="760.5" y1="352" x2="760.5" y2="367" stroke="#a05a52" stroke-width="1"/>
<line x1="760.5" y1="370" x2="760.5" y2="383" stroke="#a05a52" stroke-width="1"/>
<rect x="758.5" y="367.5" width="4" height="2" fill="#fff" stroke="#a85a50" stroke-width="1"/>
<line x1="767.5" y1="311" x2="767.5" y2="320" stroke="#a05a52" stroke-width="1"/>
<line x1="767.5" y1="366" x2="767.5" y2="371" stroke="#a05a52" stroke-width="1"/>
<rect x="765.5" y="320.5" width="4" height="45" fill="#fff" stroke="#a85a50" stroke-width="1"/>
<line x1="774.5" y1="306" x2="774.5" y2="310" stroke="#a05a52" stroke-width="1"/>
<line x1="774.5" y1="319" x2="774.5" y2="336" stroke="#a05a52" stroke-width="1"/>
<rect x="772.5" y="310.5" width="4" height="8" fill="#fff" stroke="#a85a50" stroke-width="1"/>
<line x1="781.5" y1="278" x2="781.5" y2="282" stroke="#a05a52" stroke-width="1"/>
<rect x="779.5" y="282.5" width="4" height="27" fill="#fff" stroke="#a85a50" stroke-width="1"/>
<line x1="788.5" y1="244" x2="788.5" y2="314" stroke="#6ea26e" stroke-width="1"/>
<rect x="786.0" y="282" width="5" height="24" fill="#5fa55c"/>
<line x1="795.5" y1="272" x2="795.5" y2="316" stroke="#6ea26e" stroke-width="1"/>
<rect x="793.0" y="305" width="5" height="8" fill="#5fa55c"/>
<line x1="802.5" y1="273" x2="802.5" y2="278" stroke="#a05a52" stroke-width="1"/>
<line x1="802.5" y1="312" x2="802.5" y2="358" stroke="#a05a52" stroke-width="1"/>
<rect x="800.5" y="278.5" width="4" height="33" fill="#fff" stroke="#a85a50" stroke-width="1"/>
<line x1="809.5" y1="238" x2="809.5" y2="242" stroke="#a05a52" stroke-width="1"/>
<line x1="809.5" y1="276" x2="809.5" y2="305" stroke="#a05a52" stroke-width="1"/>
<rect x="807.5" y="242.5" width="4" height="33" fill="#fff" stroke="#a85a50" stroke-width="1"/>
<line x1="816.5" y1="231" x2="816.5" y2="256" stroke="#6ea26e" stroke-width="1"/>
<rect x="814.0" y="234" width="5" height="18" fill="#5fa55c"/>
<line x1="823.5" y1="240" x2="823.5" y2="249" stroke="#a05a52" stroke-width="1"/>
<line x1="823.5" y1="255" x2="823.5" y2="280" stroke="#a05a52" stroke-width="1"/>
<rect x="821.5" y="249.5" width="4" height="5" fill="#fff" stroke="#a85a50" stroke-width="1"/>
<line x1="830.5" y1="202" x2="830.5" y2="214" stroke="#a05a52" stroke-width="1"/>
<line x1="830.5" y1="245" x2="830.5" y2="246" stroke="#a05a52" stroke-width="1"/>
<rect x="828.5" y="214.5" width="4" height="30" fill="#fff" stroke="#a85a50" stroke-width="1"/>
<line x1="837.5" y1="208" x2="837.5" y2="232" stroke="#6ea26e" stroke-width="1"/>
<rect x="835.0" y="213" width="5" height="13" fill="#5fa55c"/>
<line x1="844.5" y1="208" x2="844.5" y2="266" stroke="#6ea26e" stroke-width="1"/>
<rect x="842.0" y="226" width="5" height="13" fill="#5fa55c"/>
<line x1="851.5" y1="214" x2="851.5" y2="231" stroke="#a05a52" stroke-width="1"/>
<line x1="851.5" y1="241" x2="851.5" y2="277" stroke="#a05a52" stroke-width="1"/>
<rect x="849.5" y="231.5" width="4" height="9" fill="#fff" stroke="#a85a50" stroke-width="1"/>
<line x1="858.5" y1="196" x2="858.5" y2="287" stroke="#6ea26e" stroke-width="1"/>
<rect x="856.0" y="231" width="5" height="25" fill="#5fa55c"/>
<line x1="865.5" y1="256" x2="865.5" y2="314" stroke="#6ea26e" stroke-width="1"/>
<rect x="863.0" y="258" width="5" height="41" fill="#5fa55c"/>
<line x1="872.5" y1="269" x2="872.5" y2="284" stroke="#a05a52" stroke-width="1"/>
<line x1="872.5" y1="296" x2="872.5" y2="344" stroke="#a05a52" stroke-width="1"/>
<rect x="870.5" y="284.5" width="4" height="11" fill="#fff" stroke="#a85a50" stroke-width="1"/>
<line x1="879.5" y1="258" x2="879.5" y2="396" stroke="#6ea26e" stroke-width="1"/>
<rect x="877.0" y="283" width="5" height="86" fill="#5fa55c"/>
<line x1="886.5" y1="362" x2="886.5" y2="390" stroke="#6ea26e" stroke-width="1"/>
<rect x="884.0" y="368" width="5" height="4" fill="#5fa55c"/>
<line x1="893.5" y1="359" x2="893.5" y2="380" stroke="#a05a52" stroke-width="1"/>
<rect x="891.5" y="380.5" width="4" height="9" fill="#fff" stroke="#a85a50" stroke-width="1"/>
<line x1="900.5" y1="380" x2="900.5" y2="484" stroke="#6ea26e" stroke-width="1"/>
<rect x="898.0" y="381" width="5" height="68" fill="#5fa55c"/>
<line x1="907.5" y1="414" x2="907.5" y2="474" stroke="#6ea26e" stroke-width="1"/>
<rect x="905.0" y="448" width="5" height="4" fill="#5fa55c"/>
<line x1="914.5" y1="392" x2="914.5" y2="414" stroke="#a05a52" stroke-width="1"/>
<line x1="914.5" y1="454" x2="914.5" y2="457" stroke="#a05a52" stroke-width="1"/>
<rect x="912.5" y="414.5" width="4" height="39" fill="#fff" stroke="#a85a50" stroke-width="1"/>
<line x1="921.5" y1="369" x2="921.5" y2="378" stroke="#a05a52" stroke-width="1"/>
<line x1="921.5" y1="412" x2="921.5" y2="431" stroke="#a05a52" stroke-width="1"/>
<rect x="919.5" y="378.5" width="4" height="33" fill="#fff" stroke="#a85a50" stroke-width="1"/>
<line x1="928.5" y1="346" x2="928.5" y2="351" stroke="#a05a52" stroke-width="1"/>
<line x1="928.5" y1="372" x2="928.5" y2="378" stroke="#a05a52" stroke-width="1"/>
<rect x="926.5" y="351.5" width="4" height="20" fill="#fff" stroke="#a85a50" stroke-width="1"/>
<line x1="935.5" y1="322" x2="935.5" y2="381" stroke="#6ea26e" stroke-width="1"/>
<rect x="933.0" y="351" width="5" height="29" fill="#5fa55c"/>
<line x1="942.5" y1="369" x2="942.5" y2="437" stroke="#6ea26e" stroke-width="1"/>
<rect x="940.0" y="380" width="5" height="46" fill="#5fa55c"/>
<line x1="949.5" y1="385" x2="949.5" y2="396" stroke="#a05a52" stroke-width="1"/>
<line x1="949.5" y1="426" x2="949.5" y2="444" stroke="#a05a52" stroke-width="1"/>
<rect x="947.5" y="396.5" width="4" height="29" fill="#fff" stroke="#a85a50" stroke-width="1"/>
<line x1="956.5" y1="364" x2="956.5" y2="368" stroke="#a05a52" stroke-width="1"/>
<line x1="956.5" y1="388" x2="956.5" y2="410" stroke="#a05a52" stroke-width="1"/>
<rect x="954.5" y="368.5" width="4" height="19" fill="#fff" stroke="#a85a50" stroke-width="1"/>
<line x1="963.5" y1="364" x2="963.5" y2="538" stroke="#6ea26e" stroke-width="1"/>
<rect x="961.0" y="366" width="5" height="146" fill="#5fa55c"/>
<line x1="970.5" y1="478" x2="970.5" y2="568" stroke="#6ea26e" stroke-width="1"/>
<rect x="968.0" y="501" width="5" height="29" fill="#5fa55c"/>
<line x1="977.5" y1="448" x2="977.5" y2="478" stroke="#a05a52" stroke-width="1"/>
<line x1="977.5" y1="530" x2="977.5" y2="549" stroke="#a05a52" stroke-width="1"/>
<rect x="975.5" y="478.5" width="4" height="51" fill="#fff" stroke="#a85a50" stroke-width="1"/>
<line x1="984.5" y1="438" x2="984.5" y2="443" stroke="#a05a52" stroke-width="1"/>
<line x1="984.5" y1="476" x2="984.5" y2="485" stroke="#a05a52" stroke-width="1"/>
<rect x="982.5" y="443.5" width="4" height="32" fill="#fff" stroke="#a85a50" stroke-width="1"/>
<line x1="991.5" y1="440" x2="991.5" y2="492" stroke="#6ea26e" stroke-width="1"/>
<rect x="989.0" y="452" width="5" height="8" fill="#5fa55c"/>
<line x1="998.5" y1="462" x2="998.5" y2="566" stroke="#6ea26e" stroke-width="1"/>
<rect x="996.0" y="463" width="5" height="101" fill="#5fa55c"/>
<line x1="1005.5" y1="532" x2="1005.5" y2="553" stroke="#a05a52" stroke-width="1"/>
<line x1="1005.5" y1="562" x2="1005.5" y2="586" stroke="#a05a52" stroke-width="1"/>
<rect x="1003.5" y="553.5" width="4" height="8" fill="#fff" stroke="#a85a50" stroke-width="1"/>
<line x1="1012.5" y1="544" x2="1012.5" y2="628" stroke="#a05a52" stroke-width="1"/>
<rect x="1010.0" y="552" width="5" height="2" fill="#a85a50"/>
<line x1="1019.5" y1="518" x2="1019.5" y2="538" stroke="#a05a52" stroke-width="1"/>
<line x1="1019.5" y1="554" x2="1019.5" y2="575" stroke="#a05a52" stroke-width="1"/>
<rect x="1017.5" y="538.5" width="4" height="15" fill="#fff" stroke="#a85a50" stroke-width="1"/>
<line x1="1026.5" y1="470" x2="1026.5" y2="480" stroke="#a05a52" stroke-width="1"/>
<line x1="1026.5" y1="541" x2="1026.5" y2="558" stroke="#a05a52" stroke-width="1"/>
<rect x="1024.5" y="480.5" width="4" height="60" fill="#fff" stroke="#a85a50" stroke-width="1"/>
<line x1="1033.5" y1="448" x2="1033.5" y2="458" stroke="#a05a52" stroke-width="1"/>
<line x1="1033.5" y1="480" x2="1033.5" y2="505" stroke="#a05a52" stroke-width="1"/>
<rect x="1031.5" y="458.5" width="4" height="21" fill="#fff" stroke="#a85a50" stroke-width="1"/>
<line x1="1040.5" y1="496" x2="1040.5" y2="529" stroke="#6ea26e" stroke-width="1"/>
<rect x="1038.0" y="504" width="5" height="4" fill="#5fa55c"/>
<line x1="1047.5" y1="505" x2="1047.5" y2="575" stroke="#6ea26e" stroke-width="1"/>
<rect x="1045.0" y="507" width="5" height="43" fill="#5fa55c"/>
<line x1="1054.5" y1="532" x2="1054.5" y2="579" stroke="#6ea26e" stroke-width="1"/>
<rect x="1052.0" y="553" width="5" height="17" fill="#5fa55c"/>
<line x1="1061.5" y1="546" x2="1061.5" y2="552" stroke="#a05a52" stroke-width="1"/>
<line x1="1061.5" y1="570" x2="1061.5" y2="595" stroke="#a05a52" stroke-width="1"/>
<rect x="1059.5" y="552.5" width="4" height="17" fill="#fff" stroke="#a85a50" stroke-width="1"/>
<line x1="1068.5" y1="518" x2="1068.5" y2="572" stroke="#6ea26e" stroke-width="1"/>
<rect x="1066.0" y="556" width="5" height="8" fill="#5fa55c"/>
<line x1="1075.5" y1="524" x2="1075.5" y2="531" stroke="#a05a52" stroke-width="1"/>
<line x1="1075.5" y1="564" x2="1075.5" y2="578" stroke="#a05a52" stroke-width="1"/>
<rect x="1073.5" y="531.5" width="4" height="32" fill="#fff" stroke="#a85a50" stroke-width="1"/>
<line x1="1082.5" y1="507" x2="1082.5" y2="556" stroke="#6ea26e" stroke-width="1"/>
<rect x="1080.0" y="530" width="5" height="11" fill="#5fa55c"/>
<line x1="1089.5" y1="481" x2="1089.5" y2="527" stroke="#a05a52" stroke-width="1"/>
<line x1="1089.5" y1="541" x2="1089.5" y2="551" stroke="#a05a52" stroke-width="1"/>
<rect x="1087.5" y="527.5" width="4" height="13" fill="#fff" stroke="#a85a50" stroke-width="1"/>
<line x1="1096.5" y1="523" x2="1096.5" y2="603" stroke="#6ea26e" stroke-width="1"/>
<rect x="1094.0" y="526" width="5" height="58" fill="#5fa55c"/>
<line x1="1103.5" y1="550" x2="1103.5" y2="601" stroke="#a05a52" stroke-width="1"/>
<rect x="1101.0" y="586" width="5" height="2" fill="#a85a50"/>
<line x1="1110.5" y1="550" x2="1110.5" y2="630" stroke="#6ea26e" stroke-width="1"/>
<rect x="1108.0" y="588" width="5" height="36" fill="#5fa55c"/>
<line x1="1117.5" y1="612" x2="1117.5" y2="668" stroke="#6ea26e" stroke-width="1"/>
<rect x="1115.0" y="626" width="5" height="40" fill="#5fa55c"/>
<line x1="1124.5" y1="628" x2="1124.5" y2="657" stroke="#a05a52" stroke-width="1"/>
<line x1="1124.5" y1="662" x2="1124.5" y2="674" stroke="#a05a52" stroke-width="1"/>
<rect x="1122.5" y="657.5" width="4" height="4" fill="#fff" stroke="#a85a50" stroke-width="1"/>
<line x1="1131.5" y1="624" x2="1131.5" y2="630" stroke="#a05a52" stroke-width="1"/>
<line x1="1131.5" y1="656" x2="1131.5" y2="671" stroke="#a05a52" stroke-width="1"/>
<rect x="1129.5" y="630.5" width="4" height="25" fill="#fff" stroke="#a85a50" stroke-width="1"/>
<line x1="1138.5" y1="602" x2="1138.5" y2="648" stroke="#6ea26e" stroke-width="1"/>
<rect x="1136.0" y="628" width="5" height="2" fill="#5fa55c"/>
<line x1="1145.5" y1="606" x2="1145.5" y2="616" stroke="#a05a52" stroke-width="1"/>
<line x1="1145.5" y1="630" x2="1145.5" y2="666" stroke="#a05a52" stroke-width="1"/>
<rect x="1143.5" y="616.5" width="4" height="13" fill="#fff" stroke="#a85a50" stroke-width="1"/>
<line x1="1152.5" y1="570" x2="1152.5" y2="586" stroke="#a05a52" stroke-width="1"/>
<line x1="1152.5" y1="617" x2="1152.5" y2="618" stroke="#a05a52" stroke-width="1"/>
<rect x="1150.5" y="586.5" width="4" height="30" fill="#fff" stroke="#a85a50" stroke-width="1"/>
<line x1="1159.5" y1="573" x2="1159.5" y2="618" stroke="#6ea26e" stroke-width="1"/>
<rect x="1157.0" y="584" width="5" height="28" fill="#5fa55c"/>
<line x1="1166.5" y1="608" x2="1166.5" y2="677" stroke="#6ea26e" stroke-width="1"/>
<rect x="1164.0" y="612" width="5" height="53" fill="#5fa55c"/>
<line x1="1173.5" y1="660" x2="1173.5" y2="691" stroke="#6ea26e" stroke-width="1"/>
<rect x="1171.0" y="664" width="5" height="10" fill="#5fa55c"/>
<line x1="1180.5" y1="648" x2="1180.5" y2="690" stroke="#a05a52" stroke-width="1"/>
<rect x="1178.0" y="672" width="5" height="2" fill="#a85a50"/>
<line x1="1187.5" y1="618" x2="1187.5" y2="632" stroke="#a05a52" stroke-width="1"/>
<line x1="1187.5" y1="670" x2="1187.5" y2="685" stroke="#a05a52" stroke-width="1"/>
<rect x="1185.5" y="632.5" width="4" height="37" fill="#fff" stroke="#a85a50" stroke-width="1"/>
<line x1="1194.5" y1="609" x2="1194.5" y2="655" stroke="#6ea26e" stroke-width="1"/>
<rect x="1192.0" y="631" width="5" height="7" fill="#5fa55c"/>
<line x1="1201.5" y1="622" x2="1201.5" y2="630" stroke="#a05a52" stroke-width="1"/>
<line x1="1201.5" y1="641" x2="1201.5" y2="684" stroke="#a05a52" stroke-width="1"/>
<rect x="1199.5" y="630.5" width="4" height="10" fill="#fff" stroke="#a85a50" stroke-width="1"/>
<line x1="1208.5" y1="581" x2="1208.5" y2="588" stroke="#a05a52" stroke-width="1"/>
<line x1="1208.5" y1="631" x2="1208.5" y2="632" stroke="#a05a52" stroke-width="1"/>
<rect x="1206.5" y="588.5" width="4" height="42" fill="#fff" stroke="#a85a50" stroke-width="1"/>
<line x1="1215.5" y1="565" x2="1215.5" y2="567" stroke="#a05a52" stroke-width="1"/>
<line x1="1215.5" y1="588" x2="1215.5" y2="598" stroke="#a05a52" stroke-width="1"/>
<rect x="1213.5" y="567.5" width="4" height="20" fill="#fff" stroke="#a85a50" stroke-width="1"/>
<line x1="1222.5" y1="560" x2="1222.5" y2="602" stroke="#6ea26e" stroke-width="1"/>
<rect x="1220.0" y="567" width="5" height="30" fill="#5fa55c"/>
<line x1="1229.5" y1="583" x2="1229.5" y2="620" stroke="#6ea26e" stroke-width="1"/>
<line x1="1236.5" y1="540" x2="1236.5" y2="546" stroke="#a05a52" stroke-width="1"/>
<line x1="1236.5" y1="598" x2="1236.5" y2="605" stroke="#a05a52" stroke-width="1"/>
<rect x="1234.5" y="546.5" width="4" height="51" fill="#fff" stroke="#a85a50" stroke-width="1"/>
<line x1="1243.5" y1="536" x2="1243.5" y2="629" stroke="#6ea26e" stroke-width="1"/>
<rect x="1241.0" y="547" width="5" height="56" fill="#5fa55c"/>
<line x1="1250.5" y1="600" x2="1250.5" y2="658" stroke="#6ea26e" stroke-width="1"/>
<rect x="1248.0" y="604" width="5" height="47" fill="#5fa55c"/>
<line x1="1257.5" y1="641" x2="1257.5" y2="688" stroke="#6ea26e" stroke-width="1"/>
<rect x="1255.0" y="653" width="5" height="31" fill="#5fa55c"/>
<line x1="1264.5" y1="640" x2="1264.5" y2="675" stroke="#a05a52" stroke-width="1"/>
<line x1="1264.5" y1="684" x2="1264.5" y2="685" stroke="#a05a52" stroke-width="1"/>
<rect x="1262.5" y="675.5" width="4" height="8" fill="#fff" stroke="#a85a50" stroke-width="1"/>
<line x1="1271.5" y1="631" x2="1271.5" y2="652" stroke="#a05a52" stroke-width="1"/>
<line x1="1271.5" y1="671" x2="1271.5" y2="672" stroke="#a05a52" stroke-width="1"/>
<rect x="1269.5" y="652.5" width="4" height="18" fill="#fff" stroke="#a85a50" stroke-width="1"/>
<line x1="1278.5" y1="644" x2="1278.5" y2="685" stroke="#6ea26e" stroke-width="1"/>
<rect x="1276.0" y="650" width="5" height="27" fill="#5fa55c"/>
<line x1="1285.5" y1="665" x2="1285.5" y2="747" stroke="#6ea26e" stroke-width="1"/>
<rect x="1283.0" y="677" width="5" height="69" fill="#5fa55c"/>
<line x1="1292.5" y1="711" x2="1292.5" y2="732" stroke="#a05a52" stroke-width="1"/>
<line x1="1292.5" y1="742" x2="1292.5" y2="750" stroke="#a05a52" stroke-width="1"/>
<rect x="1290.5" y="732.5" width="4" height="9" fill="#fff" stroke="#a85a50" stroke-width="1"/>
<line x1="1299.5" y1="672" x2="1299.5" y2="686" stroke="#a05a52" stroke-width="1"/>
<line x1="1299.5" y1="730" x2="1299.5" y2="732" stroke="#a05a52" stroke-width="1"/>
<rect x="1297.5" y="686.5" width="4" height="43" fill="#fff" stroke="#a85a50" stroke-width="1"/>
<line x1="1306.5" y1="648" x2="1306.5" y2="662" stroke="#a05a52" stroke-width="1"/>
<line x1="1306.5" y1="684" x2="1306.5" y2="700" stroke="#a05a52" stroke-width="1"/>
<rect x="1304.5" y="662.5" width="4" height="21" fill="#fff" stroke="#a85a50" stroke-width="1"/>
<line x1="1313.5" y1="645" x2="1313.5" y2="682" stroke="#6ea26e" stroke-width="1"/>
<rect x="1311.0" y="662" width="5" height="6" fill="#5fa55c"/>
<line x1="1320.5" y1="633" x2="1320.5" y2="650" stroke="#a05a52" stroke-width="1"/>
<line x1="1320.5" y1="667" x2="1320.5" y2="675" stroke="#a05a52" stroke-width="1"/>
<rect x="1318.5" y="650.5" width="4" height="16" fill="#fff" stroke="#a85a50" stroke-width="1"/>
<line x1="1327.5" y1="648" x2="1327.5" y2="706" stroke="#6ea26e" stroke-width="1"/>
<rect x="1325.0" y="651" width="5" height="49" fill="#5fa55c"/>
<line x1="1334.5" y1="680" x2="1334.5" y2="710" stroke="#a05a52" stroke-width="1"/>
<rect x="1332.0" y="698" width="5" height="2" fill="#a85a50"/>
<line x1="1341.5" y1="684" x2="1341.5" y2="697" stroke="#a05a52" stroke-width="1"/>
<line x1="1341.5" y1="700" x2="1341.5" y2="739" stroke="#a05a52" stroke-width="1"/>
<rect x="1339.5" y="697.5" width="4" height="2" fill="#fff" stroke="#a85a50" stroke-width="1"/>
<line x1="1348.5" y1="686" x2="1348.5" y2="726" stroke="#6ea26e" stroke-width="1"/>
<rect x="1346.0" y="702" width="5" height="8" fill="#5fa55c"/>
<line x1="1355.5" y1="679" x2="1355.5" y2="734" stroke="#6ea26e" stroke-width="1"/>
<rect x="1353.0" y="712" width="5" height="16" fill="#5fa55c"/>
<line x1="1362.5" y1="688" x2="1362.5" y2="722" stroke="#a05a52" stroke-width="1"/>
<line x1="1362.5" y1="727" x2="1362.5" y2="734" stroke="#a05a52" stroke-width="1"/>
<rect x="1360.5" y="722.5" width="4" height="4" fill="#fff" stroke="#a85a50" stroke-width="1"/>
<line x1="1369.5" y1="715" x2="1369.5" y2="792" stroke="#6ea26e" stroke-width="1"/>
<rect x="1367.0" y="720" width="5" height="57" fill="#5fa55c"/>
<line x1="1376.5" y1="763" x2="1376.5" y2="815" stroke="#6ea26e" stroke-width="1"/>
<rect x="1374.0" y="776" width="5" height="39" fill="#5fa55c"/>
<line x1="1383.5" y1="773" x2="1383.5" y2="794" stroke="#a05a52" stroke-width="1"/>
<rect x="1381.5" y="794.5" width="4" height="17" fill="#fff" stroke="#a85a50" stroke-width="1"/>
<line x1="1390.5" y1="738" x2="1390.5" y2="743" stroke="#a05a52" stroke-width="1"/>
<line x1="1390.5" y1="792" x2="1390.5" y2="811" stroke="#a05a52" stroke-width="1"/>
<rect x="1388.5" y="743.5" width="4" height="48" fill="#fff" stroke="#a85a50" stroke-width="1"/>
<line x1="1397.5" y1="729" x2="1397.5" y2="762" stroke="#6ea26e" stroke-width="1"/>
<rect x="1395.0" y="741" width="5" height="4" fill="#5fa55c"/>
<line x1="1404.5" y1="734" x2="1404.5" y2="778" stroke="#6ea26e" stroke-width="1"/>
<rect x="1402.0" y="747" width="5" height="25" fill="#5fa55c"/>
<line x1="1411.5" y1="706" x2="1411.5" y2="724" stroke="#a05a52" stroke-width="1"/>
<line x1="1411.5" y1="752" x2="1411.5" y2="755" stroke="#a05a52" stroke-width="1"/>
<rect x="1409.5" y="724.5" width="4" height="27" fill="#fff" stroke="#a85a50" stroke-width="1"/>
<line x1="1418.5" y1="675" x2="1418.5" y2="684" stroke="#a05a52" stroke-width="1"/>
<line x1="1418.5" y1="724" x2="1418.5" y2="725" stroke="#a05a52" stroke-width="1"/>
<rect x="1416.5" y="684.5" width="4" height="39" fill="#fff" stroke="#a85a50" stroke-width="1"/>
<line x1="1425.5" y1="657" x2="1425.5" y2="662" stroke="#a05a52" stroke-width="1"/>
<line x1="1425.5" y1="684" x2="1425.5" y2="694" stroke="#a05a52" stroke-width="1"/>
<rect x="1423.5" y="662.5" width="4" height="21" fill="#fff" stroke="#a85a50" stroke-width="1"/>
<line x1="1432.5" y1="648" x2="1432.5" y2="651" stroke="#a05a52" stroke-width="1"/>
<line x1="1432.5" y1="662" x2="1432.5" y2="672" stroke="#a05a52" stroke-width="1"/>
<rect x="1430.5" y="651.5" width="4" height="10" fill="#fff" stroke="#a85a50" stroke-width="1"/>
<line x1="1439.5" y1="593" x2="1439.5" y2="596" stroke="#a05a52" stroke-width="1"/>
<line x1="1439.5" y1="650" x2="1439.5" y2="660" stroke="#a05a52" stroke-width="1"/>
<rect x="1437.5" y="596.5" width="4" height="53" fill="#fff" stroke="#a85a50" stroke-width="1"/>
<line x1="1446.5" y1="589" x2="1446.5" y2="629" stroke="#6ea26e" stroke-width="1"/>
<rect x="1444.0" y="592" width="5" height="34" fill="#5fa55c"/>
<line x1="1453.5" y1="619" x2="1453.5" y2="662" stroke="#6ea26e" stroke-width="1"/>
<rect x="1451.0" y="624" width="5" height="31" fill="#5fa55c"/>
<line x1="1460.5" y1="634" x2="1460.5" y2="676" stroke="#6ea26e" stroke-width="1"/>
<rect x="1458.0" y="655" width="5" height="20" fill="#5fa55c"/>
<line x1="1467.5" y1="638" x2="1467.5" y2="647" stroke="#a05a52" stroke-width="1"/>
<line x1="1467.5" y1="674" x2="1467.5" y2="692" stroke="#a05a52" stroke-width="1"/>
<rect x="1465.5" y="647.5" width="4" height="26" fill="#fff" stroke="#a85a50" stroke-width="1"/>
<line x1="1474.5" y1="639" x2="1474.5" y2="698" stroke="#6ea26e" stroke-width="1"/>
<rect x="1472.0" y="647" width="5" height="47" fill="#5fa55c"/>
<line x1="1481.5" y1="670" x2="1481.5" y2="705" stroke="#a05a52" stroke-width="1"/>
<rect x="1479.0" y="693" width="5" height="2" fill="#a85a50"/>
<line x1="1488.5" y1="690" x2="1488.5" y2="739" stroke="#6ea26e" stroke-width="1"/>
<rect x="1486.0" y="693" width="5" height="27" fill="#5fa55c"/>
<line x1="1495.5" y1="689" x2="1495.5" y2="692" stroke="#a05a52" stroke-width="1"/>
<line x1="1495.5" y1="720" x2="1495.5" y2="732" stroke="#a05a52" stroke-width="1"/>
<rect x="1493.5" y="692.5" width="4" height="27" fill="#fff" stroke="#a85a50" stroke-width="1"/>
<line x1="1502.5" y1="672" x2="1502.5" y2="712" stroke="#a05a52" stroke-width="1"/>
<rect x="1500.0" y="702" width="5" height="2" fill="#a85a50"/>
<line x1="1509.5" y1="690" x2="1509.5" y2="725" stroke="#a05a52" stroke-width="1"/>
<rect x="1507.0" y="700" width="5" height="2" fill="#a85a50"/>
<line x1="1516.5" y1="690" x2="1516.5" y2="731" stroke="#6ea26e" stroke-width="1"/>
<rect x="1514.0" y="701" width="5" height="2" fill="#5fa55c"/>
<line x1="1523.5" y1="689" x2="1523.5" y2="726" stroke="#a05a52" stroke-width="1"/>
<rect x="1521.0" y="703" width="5" height="2" fill="#a85a50"/>
<line x1="1530.5" y1="689" x2="1530.5" y2="691" stroke="#d05ab4" stroke-width="1"/>
<line x1="1530.5" y1="701" x2="1530.5" y2="712" stroke="#d05ab4" stroke-width="1"/>
<rect x="1528.5" y="691.5" width="4" height="9" fill="#fff" stroke="#d05ab4" stroke-width="1"/>
<polyline points="66.0,884.0 67.5,883.4 74.5,880.7 81.5,878.2 88.5,876.8 95.5,875.4 102.5,874.0 109.5,872.6 116.5,871.4 123.5,870.2 130.5,869.0 137.5,867.6 144.5,866.1 151.5,864.6 158.5,863.1 165.5,861.5 172.5,859.9 179.5,858.2 186.5,856.6 193.5,854.9 200.5,853.1 207.5,851.4 214.5,849.6 221.5,848.1 228.5,846.7 235.5,845.2 242.5,843.8 249.5,842.3 256.5,840.7 263.5,838.8 270.5,836.9 277.5,835.0 284.5,833.1 291.5,831.4 298.5,829.6 305.5,827.8 312.5,825.9 319.5,824.0 326.5,822.1 333.5,819.8 340.5,817.0 347.5,814.4 354.5,811.9 361.5,808.5 368.5,804.9 375.5,800.9 382.5,797.6 389.5,795.2 396.5,792.9 403.5,790.6 410.5,788.8 417.5,787.1 424.5,785.0 431.5,782.9 438.5,780.6 445.5,777.9 452.5,774.7 459.5,772.1 466.5,769.6 473.5,767.5 480.5,765.3 487.5,763.3 494.5,761.2 501.5,759.0 508.5,757.1 515.5,755.4 522.5,753.9 529.5,752.5 536.5,751.1 543.5,749.7 550.5,748.3 557.5,746.6 564.5,744.5 571.5,742.4 578.5,740.3 585.5,738.5 592.5,736.7 599.5,734.7 606.5,732.6 613.5,730.7 620.5,728.8 627.5,726.8 634.5,724.6 641.5,722.1 648.5,719.7 655.5,717.2 662.5,714.8 669.5,712.4 676.5,710.3 683.5,708.5 690.5,706.8 697.5,704.9 704.5,702.0 711.5,699.2 718.5,696.3 725.5,693.0 732.5,690.0 739.5,687.8 746.5,685.1 753.5,682.3 760.5,680.1 767.5,676.7 774.5,673.2 781.5,669.8 788.5,666.5 795.5,663.2 802.5,659.8 809.5,656.4 816.5,652.9 823.5,649.6 830.5,646.2 837.5,642.5 844.5,638.7 851.5,634.9 858.5,631.6 865.5,628.8 872.5,626.0 879.5,623.2 886.5,620.4 893.5,617.6 900.5,615.3 907.5,613.0 914.5,610.7 921.5,608.5 928.5,606.3 935.5,603.7 942.5,601.0 949.5,598.5 956.5,596.7 963.5,594.9 970.5,593.1 977.5,591.4 984.5,589.7 991.5,588.2 998.5,586.8 1005.5,585.5 1012.5,584.0 1019.5,582.6 1026.5,581.2 1033.5,579.8 1040.5,578.4 1047.5,577.0 1054.5,575.6 1061.5,574.7 1068.5,573.8 1075.5,573.0 1082.5,572.1 1089.5,571.4 1096.5,570.7 1103.5,570.0 1110.5,569.5 1117.5,569.0 1124.5,568.5 1131.5,568.0 1138.5,567.4 1145.5,566.9 1152.5,566.4 1159.5,565.8 1166.5,565.3 1173.5,564.8 1180.5,564.2 1187.5,563.5 1194.5,562.8 1201.5,562.1 1208.5,561.4 1215.5,560.6 1222.5,559.9 1229.5,559.1 1236.5,558.4 1243.5,557.7 1250.5,556.9 1257.5,556.2 1264.5,555.4 1271.5,554.6 1278.5,553.6 1285.5,552.4 1292.5,551.3 1299.5,550.1 1306.5,549.0 1313.5,548.0 1320.5,547.0 1327.5,546.0 1334.5,545.0 1341.5,544.1 1348.5,543.2 1355.5,542.5 1362.5,541.9 1369.5,541.2 1376.5,540.6 1383.5,540.0 1390.5,539.5 1397.5,538.9 1404.5,538.2 1411.5,537.5 1418.5,536.7 1425.5,535.9 1432.5,535.2 1439.5,534.4 1446.5,533.7 1453.5,533.2 1460.5,532.5 1467.5,531.7 1474.5,531.2 1481.5,530.8 1488.5,530.5 1495.5,530.0 1502.5,529.8 1509.5,529.6 1516.5,529.4 1523.5,529.4 1530.5,529.2" fill="none" stroke="#a04c44" stroke-width="1" stroke-linejoin="round" shape-rendering="crispEdges"/>
<polyline points="60.5,837.5 67.5,835.6 74.5,833.7 81.5,832.0 88.5,831.2 95.5,829.3 102.5,827.2 109.5,825.1 116.5,822.9 123.5,820.7 130.5,818.4 137.5,816.1 144.5,813.9 151.5,811.7 158.5,809.5 165.5,807.4 172.5,805.2 179.5,803.0 186.5,800.8 193.5,798.5 200.5,796.3 207.5,794.0 214.5,791.6 221.5,789.2 228.5,786.8 235.5,784.4 242.5,782.3 249.5,780.2 256.5,777.5 263.5,774.9 270.5,772.2 277.5,769.7 284.5,767.5 291.5,765.2 298.5,763.0 305.5,760.7 312.5,758.5 319.5,756.5 326.5,754.5 333.5,752.5 340.5,749.5 347.5,746.0 354.5,741.8 361.5,737.0 368.5,731.9 375.5,726.9 382.5,723.4 389.5,719.9 396.5,716.7 403.5,713.9 410.5,712.8 417.5,711.3 424.5,709.6 431.5,706.2 438.5,702.9 445.5,699.4 452.5,695.8 459.5,691.0 466.5,687.3 473.5,683.9 480.5,680.8 487.5,677.8 494.5,674.8 501.5,673.5 508.5,670.5 515.5,667.1 522.5,665.2 529.5,663.4 536.5,661.5 543.5,658.3 550.5,655.0 557.5,651.5 564.5,648.0 571.5,644.5 578.5,641.0 585.5,636.7 592.5,632.0 599.5,627.0 606.5,623.4 613.5,619.8 620.5,614.6 627.5,609.4 634.5,605.2 641.5,601.0 648.5,596.5 655.5,591.9 662.5,587.0 669.5,582.2 676.5,578.4 683.5,574.4 690.5,569.8 697.5,564.8 704.5,558.9 711.5,553.4 718.5,548.9 725.5,544.5 732.5,540.3 739.5,536.0 746.5,531.4 753.5,527.5 760.5,523.0 767.5,518.2 774.5,513.2 781.5,508.3 788.5,503.6 795.5,498.8 802.5,494.1 809.5,489.2 816.5,484.3 823.5,479.7 830.5,474.6 837.5,470.0 844.5,465.3 851.5,460.6 858.5,456.1 865.5,452.0 872.5,447.8 879.5,444.7 886.5,441.7 893.5,438.8 900.5,436.7 907.5,434.6 914.5,432.2 921.5,429.6 928.5,427.0 935.5,424.7 942.5,422.5 949.5,420.1 956.5,417.5 963.5,416.7 970.5,416.3 977.5,415.0 984.5,413.1 991.5,411.4 998.5,410.7 1005.5,410.1 1012.5,409.5 1019.5,408.9 1026.5,407.6 1033.5,406.6 1040.5,407.4 1047.5,409.3 1054.5,411.0 1061.5,413.5 1068.5,416.7 1075.5,420.2 1082.5,421.8 1089.5,422.8 1096.5,424.7 1103.5,425.8 1110.5,426.4 1117.5,427.3 1124.5,429.3 1131.5,431.0 1138.5,433.7 1145.5,435.9 1152.5,438.6 1159.5,441.1 1166.5,444.3 1173.5,446.5 1180.5,448.8 1187.5,451.0 1194.5,452.5 1201.5,453.7 1208.5,455.0 1215.5,455.8 1222.5,456.3 1229.5,456.8 1236.5,456.9 1243.5,457.3 1250.5,458.9 1257.5,461.2 1264.5,463.7 1271.5,466.2 1278.5,468.2 1285.5,470.9 1292.5,473.7 1299.5,475.7 1306.5,477.1 1313.5,478.9 1320.5,480.7 1327.5,483.3 1334.5,485.7 1341.5,488.3 1348.5,490.8 1355.5,494.0 1362.5,497.3 1369.5,501.4 1376.5,504.8 1383.5,507.6 1390.5,510.7 1397.5,514.0 1404.5,518.0 1411.5,521.9 1418.5,525.5 1425.5,528.3 1432.5,531.3 1439.5,533.5 1446.5,536.1 1453.5,538.9 1460.5,542.0 1467.5,545.3 1474.5,549.1 1481.5,553.2 1488.5,557.4 1495.5,561.2 1502.5,565.4 1509.5,570.0 1516.5,574.5 1523.5,579.0 1530.5,583.8" fill="none" stroke="#787878" stroke-width="1" stroke-linejoin="round" shape-rendering="crispEdges"/>
<polyline points="60.5,806.0 67.5,806.4 74.5,806.7 81.5,807.2 88.5,808.2 95.5,809.0 102.5,809.0 109.5,809.0 116.5,809.0 123.5,808.9 130.5,808.7 137.5,808.4 144.5,808.0 151.5,807.4 158.5,806.8 165.5,806.3 172.5,805.8 179.5,804.9 186.5,803.6 193.5,802.4 200.5,801.2 207.5,799.7 214.5,798.0 221.5,796.4 228.5,794.5 235.5,792.4 242.5,790.3 249.5,788.5 256.5,786.3 263.5,783.0 270.5,779.6 277.5,776.2 284.5,772.8 291.5,769.2 298.5,765.8 305.5,762.2 312.5,757.8 319.5,751.6 326.5,745.3 333.5,739.1 340.5,730.4 347.5,722.1 354.5,714.0 361.5,706.1 368.5,694.2 375.5,683.2 382.5,673.9 389.5,666.1 396.5,658.5 403.5,651.1 410.5,645.2 417.5,639.3 424.5,633.0 431.5,626.3 438.5,618.1 445.5,610.8 452.5,603.5 459.5,596.1 466.5,594.2 473.5,582.4 480.5,576.1 487.5,569.5 494.5,564.3 501.5,560.0 508.5,554.6 515.5,549.6 522.5,546.2 529.5,543.1 536.5,539.5 543.5,537.2 550.5,533.4 557.5,529.4 564.5,524.8 571.5,519.8 578.5,516.0 585.5,512.0 592.5,507.9 599.5,504.7 606.5,502.2 613.5,499.1 620.5,496.0 627.5,492.4 634.5,488.9 641.5,485.6 648.5,483.1 655.5,479.6 662.5,475.6 669.5,471.1 676.5,468.4 683.5,467.2 690.5,464.8 697.5,461.7 704.5,457.5 711.5,452.3 718.5,447.2 725.5,443.4 732.5,439.1 739.5,435.4 746.5,431.3 753.5,428.2 760.5,427.2 767.5,426.6 774.5,425.1 781.5,424.6 788.5,425.7 795.5,427.9 802.5,426.2 809.5,423.0 816.5,420.8 823.5,417.0 830.5,411.0 837.5,405.3 844.5,401.7 851.5,397.8 858.5,396.0 865.5,394.5 872.5,393.9 879.5,394.1 886.5,394.6 893.5,393.2 900.5,393.4 907.5,394.1 914.5,392.9 921.5,390.6 928.5,388.8 935.5,387.0 942.5,385.0 949.5,382.6 956.5,379.8 963.5,378.8 970.5,379.5 977.5,379.9 984.5,380.2 991.5,381.1 998.5,382.6 1005.5,383.9 1012.5,385.6 1019.5,386.5 1026.5,385.8 1033.5,385.3 1040.5,385.8 1047.5,387.7 1054.5,389.6 1061.5,391.5 1068.5,393.3 1075.5,395.3 1082.5,397.8 1089.5,400.4 1096.5,402.3 1103.5,403.5 1110.5,406.6 1117.5,410.8 1124.5,415.5 1131.5,420.6 1138.5,425.6 1145.5,429.4 1152.5,433.3 1159.5,437.3 1166.5,442.3 1173.5,447.3 1180.5,452.4 1187.5,457.6 1194.5,463.1 1201.5,468.9 1208.5,473.6 1215.5,477.8 1222.5,483.1 1229.5,489.1 1236.5,494.0 1243.5,499.9 1250.5,507.2 1257.5,514.8 1264.5,522.1 1271.5,529.1 1278.5,536.1 1285.5,543.5 1292.5,551.0 1299.5,556.3 1306.5,561.1 1313.5,565.9 1320.5,569.3 1327.5,573.4 1334.5,578.1 1341.5,583.5 1348.5,589.5 1355.5,595.2 1362.5,600.2 1369.5,606.5 1376.5,614.0 1383.5,618.7 1390.5,622.3 1397.5,626.7 1404.5,632.2 1411.5,636.6 1418.5,638.6 1425.5,640.4 1432.5,642.1 1439.5,643.0 1446.5,645.5 1453.5,648.8 1460.5,651.6 1467.5,653.2 1474.5,655.2 1481.5,657.6 1488.5,660.2 1495.5,662.9 1502.5,665.6 1509.5,668.4 1516.5,670.4 1523.5,672.3 1530.5,673.5" fill="none" stroke="#e0a64e" stroke-width="1" stroke-linejoin="round" shape-rendering="crispEdges"/>
<polyline points="60.5,866.0 67.5,866.1 74.5,866.2 81.5,865.3 88.5,865.1 95.5,860.7 102.5,855.4 109.5,848.8 116.5,841.5 123.5,834.5 130.5,827.8 137.5,821.0 144.5,814.1 151.5,808.0 158.5,801.3 165.5,794.4 172.5,788.3 179.5,782.1 186.5,775.8 193.5,769.4 200.5,762.3 207.5,754.6 214.5,747.0 221.5,739.7 228.5,732.7 235.5,725.8 242.5,719.2 249.5,712.5 256.5,705.8 263.5,699.8 270.5,691.7 277.5,685.1 284.5,679.3 291.5,674.8 298.5,669.8 305.5,664.0 312.5,659.3 319.5,654.8 326.5,650.2 333.5,645.3 340.5,635.4 347.5,624.3 354.5,614.3 361.5,601.1 368.5,585.7 375.5,568.0 382.5,557.3 389.5,549.1 396.5,539.6 403.5,533.2 410.5,530.2 417.5,527.1 424.5,520.4 431.5,514.7 438.5,506.4 445.5,498.9 452.5,488.3 459.5,479.0 466.5,469.3 473.5,465.0 480.5,460.5 487.5,453.9 494.5,449.3 501.5,445.2 508.5,439.5 515.5,435.2 522.5,433.1 529.5,431.3 536.5,428.8 543.5,429.1 550.5,431.4 557.5,434.6 564.5,435.2 571.5,438.5 578.5,446.3 585.5,456.0 592.5,458.4 599.5,460.2 606.5,464.7 613.5,464.9 620.5,461.9 627.5,457.6 634.5,457.4 641.5,456.6 648.5,459.8 655.5,460.3 662.5,462.8 669.5,463.1 676.5,467.6 683.5,469.3 690.5,469.1 697.5,469.5 704.5,465.6 711.5,459.4 718.5,455.0 725.5,451.6 732.5,445.2 739.5,439.4 746.5,433.9 753.5,427.3 760.5,423.0 767.5,418.6 774.5,414.9 781.5,410.8 788.5,405.2 795.5,399.8 802.5,393.9 809.5,385.9 816.5,376.8 823.5,369.0 830.5,360.2 837.5,353.1 844.5,345.9 851.5,339.0 858.5,332.2 865.5,328.6 872.5,324.9 879.5,325.0 886.5,321.5 893.5,317.1 900.5,317.6 907.5,318.7 914.5,320.1 921.5,321.9 928.5,322.6 935.5,322.5 942.5,324.9 949.5,325.7 956.5,325.7 963.5,330.4 970.5,335.9 977.5,341.1 984.5,345.6 991.5,351.5 998.5,360.1 1005.5,368.1 1012.5,377.3 1019.5,387.1 1026.5,394.7 1033.5,401.7 1040.5,411.5 1047.5,422.3 1054.5,433.3 1061.5,444.0 1068.5,454.3 1075.5,462.1 1082.5,470.6 1089.5,475.9 1096.5,483.0 1103.5,489.8 1110.5,495.7 1117.5,502.8 1124.5,510.8 1131.5,519.3 1138.5,528.5 1145.5,536.4 1152.5,541.7 1159.5,548.9 1166.5,558.8 1173.5,564.2 1180.5,569.0 1187.5,574.1 1194.5,580.6 1201.5,586.2 1208.5,587.0 1215.5,587.5 1222.5,589.0 1229.5,591.0 1236.5,593.2 1243.5,598.1 1250.5,602.8 1257.5,607.3 1264.5,610.8 1271.5,614.1 1278.5,617.8 1285.5,625.0 1292.5,631.4 1299.5,636.7 1306.5,639.3 1313.5,642.0 1320.5,642.9 1327.5,644.1 1334.5,645.4 1341.5,647.7 1348.5,650.4 1355.5,654.1 1362.5,658.7 1369.5,664.2 1376.5,669.2 1383.5,673.2 1390.5,675.5 1397.5,679.3 1404.5,683.8 1411.5,686.9 1418.5,690.2 1425.5,693.3 1432.5,695.1 1439.5,695.1 1446.5,697.8 1453.5,699.5 1460.5,700.3 1467.5,699.1 1474.5,699.7 1481.5,701.1 1488.5,702.5 1495.5,700.7 1502.5,699.7 1509.5,700.2 1516.5,701.5 1523.5,702.7 1530.5,704.0" fill="none" stroke="#c846c8" stroke-width="1" stroke-linejoin="round" shape-rendering="crispEdges"/>
<polyline points="60.5,818.0 67.5,815.4 74.5,812.4 81.5,803.4 88.5,795.9 95.5,789.7 102.5,778.9 109.5,764.7 116.5,759.2 123.5,745.2 130.5,731.4 137.5,719.3 144.5,713.1 151.5,705.5 158.5,704.0 165.5,703.0 172.5,705.1 179.5,699.9 186.5,692.9 193.5,686.3 200.5,675.8 207.5,667.3 214.5,664.8 221.5,657.3 228.5,645.3 235.5,636.0 242.5,632.1 249.5,626.9 256.5,627.0 263.5,622.2 270.5,614.2 277.5,608.0 284.5,606.4 291.5,606.8 298.5,615.5 305.5,623.8 312.5,623.7 319.5,617.6 326.5,612.0 333.5,598.2 340.5,559.8 347.5,509.8 354.5,470.4 361.5,410.8 368.5,346.5 375.5,298.3 382.5,302.8 389.5,308.6 396.5,324.0 403.5,371.6 410.5,448.9 417.5,486.3 424.5,492.3 431.5,507.4 438.5,484.2 445.5,448.7 452.5,399.1 459.5,378.9 466.5,354.7 473.5,374.1 480.5,383.8 487.5,401.9 494.5,428.0 501.5,462.3 508.5,462.0 515.5,471.6 522.5,498.7 529.5,509.6 536.5,513.8 543.5,535.8 550.5,537.0 557.5,518.5 564.5,493.9 571.5,468.6 578.5,449.7 585.5,445.8 592.5,446.0 599.5,458.3 606.5,481.7 613.5,483.4 620.5,484.5 627.5,481.5 634.5,475.4 641.5,458.4 648.5,453.7 655.5,439.3 662.5,430.3 669.5,413.4 676.5,420.6 683.5,431.3 690.5,436.6 697.5,441.6 704.5,442.9 711.5,413.0 718.5,376.0 725.5,366.1 732.5,353.1 739.5,352.5 746.5,360.9 753.5,369.5 760.5,365.9 767.5,359.3 774.5,347.0 781.5,330.0 788.5,317.0 795.5,306.3 802.5,297.7 809.5,284.1 816.5,278.0 823.5,266.6 830.5,246.7 837.5,236.3 844.5,235.7 851.5,231.5 858.5,233.0 865.5,250.0 872.5,261.6 879.5,287.6 886.5,315.8 893.5,340.7 900.5,370.7 907.5,404.5 914.5,413.6 921.5,414.8 928.5,408.9 935.5,395.2 942.5,389.9 949.5,386.1 956.5,384.0 963.5,416.2 970.5,446.3 977.5,456.7 984.5,466.2 991.5,484.8 998.5,495.1 1005.5,499.6 1012.5,514.5 1019.5,533.4 1026.5,537.2 1033.5,516.0 1040.5,506.9 1047.5,506.4 1054.5,512.9 1061.5,527.5 1068.5,548.9 1075.5,553.6 1082.5,551.7 1089.5,543.2 1096.5,549.4 1103.5,553.7 1110.5,572.3 1117.5,597.3 1124.5,623.2 1131.5,632.5 1138.5,641.2 1145.5,639.6 1152.5,623.6 1159.5,614.6 1166.5,621.5 1173.5,630.4 1180.5,641.7 1187.5,651.1 1194.5,656.2 1201.5,649.1 1208.5,632.0 1215.5,610.9 1222.5,603.8 1229.5,595.8 1236.5,579.1 1243.5,582.1 1250.5,598.9 1257.5,616.2 1264.5,631.7 1271.5,652.8 1278.5,667.6 1285.5,686.6 1292.5,696.3 1299.5,698.5 1306.5,700.7 1313.5,698.8 1320.5,679.8 1327.5,673.3 1334.5,675.7 1341.5,682.6 1348.5,691.2 1355.5,706.7 1362.5,711.2 1369.5,727.0 1376.5,750.6 1383.5,767.4 1390.5,770.4 1397.5,774.9 1404.5,774.0 1411.5,755.7 1418.5,733.7 1425.5,717.6 1432.5,698.8 1439.5,663.5 1446.5,644.0 1453.5,638.1 1460.5,640.6 1467.5,639.8 1474.5,659.3 1481.5,672.7 1488.5,685.7 1495.5,689.2 1502.5,700.2 1509.5,701.4 1516.5,703.2 1523.5,699.8 1530.5,699.5" fill="none" stroke="#000" stroke-width="1" stroke-linejoin="round" shape-rendering="crispEdges"/>
<polyline points="60.5,841.6 67.5,831.1 74.5,823.0 81.5,815.6 88.5,809.1 95.5,803.9 102.5,797.1 109.5,788.5 116.5,781.3 123.5,770.6 130.5,760.6 137.5,749.1 144.5,738.9 151.5,732.3 158.5,724.6 165.5,717.2 172.5,712.2 179.5,706.5 186.5,699.2 193.5,695.2 200.5,689.4 207.5,686.2 214.5,682.3 221.5,675.1 228.5,665.8 235.5,655.9 242.5,649.7 249.5,645.9 256.5,642.2 263.5,633.7 270.5,625.1 277.5,620.1 284.5,616.7 291.5,616.9 298.5,618.9 305.5,619.0 312.5,615.9 319.5,612.0 326.5,609.4 333.5,606.9 340.5,591.8 347.5,566.8 354.5,544.0 361.5,511.4 368.5,472.4 375.5,429.1 382.5,406.3 389.5,389.5 396.5,367.4 403.5,359.1 410.5,373.6 417.5,394.5 424.5,400.4 431.5,415.7 438.5,427.9 445.5,448.8 452.5,442.7 459.5,435.6 466.5,431.0 473.5,429.2 480.5,416.2 487.5,400.5 494.5,403.5 501.5,408.5 508.5,418.1 515.5,427.7 522.5,450.3 529.5,468.8 536.5,488.0 543.5,498.9 550.5,504.3 557.5,508.6 564.5,501.8 571.5,491.2 578.5,492.8 585.5,491.4 592.5,482.3 599.5,476.1 606.5,475.1 613.5,466.6 620.5,465.1 627.5,463.8 634.5,466.9 641.5,470.1 648.5,468.6 655.5,461.9 662.5,455.9 669.5,444.4 676.5,439.5 683.5,442.5 690.5,438.0 697.5,436.0 704.5,428.2 711.5,416.8 718.5,403.7 725.5,401.4 732.5,397.4 739.5,397.7 746.5,387.0 753.5,372.7 760.5,366.0 767.5,356.2 774.5,349.8 781.5,345.5 788.5,343.3 795.5,336.1 802.5,328.5 809.5,315.6 816.5,304.0 823.5,291.8 830.5,276.5 837.5,267.0 844.5,259.9 851.5,254.8 858.5,249.8 865.5,248.3 872.5,249.0 879.5,261.7 886.5,273.7 893.5,286.9 900.5,310.4 907.5,333.1 914.5,350.6 921.5,365.3 928.5,374.8 935.5,383.0 942.5,397.2 949.5,399.9 956.5,399.4 963.5,412.6 970.5,420.8 977.5,423.3 984.5,426.1 991.5,434.4 998.5,455.7 1005.5,473.0 1012.5,485.6 1019.5,499.8 1026.5,511.0 1033.5,505.6 1040.5,503.3 1047.5,510.5 1054.5,523.2 1061.5,532.4 1068.5,532.5 1075.5,530.3 1082.5,529.1 1089.5,528.1 1096.5,538.5 1103.5,551.3 1110.5,563.0 1117.5,574.5 1124.5,583.2 1131.5,591.0 1138.5,597.5 1145.5,606.0 1152.5,610.5 1159.5,618.9 1166.5,627.0 1173.5,635.8 1180.5,640.7 1187.5,637.4 1194.5,635.4 1201.5,635.3 1208.5,631.2 1215.5,626.3 1222.5,627.4 1229.5,626.0 1236.5,614.1 1243.5,607.0 1250.5,604.9 1257.5,610.0 1264.5,613.8 1271.5,616.0 1278.5,624.9 1285.5,642.7 1292.5,656.3 1299.5,665.1 1306.5,676.8 1313.5,683.2 1320.5,683.2 1327.5,684.8 1334.5,687.1 1341.5,691.7 1348.5,695.0 1355.5,693.2 1362.5,692.2 1369.5,701.4 1376.5,716.6 1383.5,729.3 1390.5,738.5 1397.5,743.0 1404.5,750.5 1411.5,753.2 1418.5,750.6 1425.5,744.0 1432.5,736.9 1439.5,718.8 1446.5,699.9 1453.5,685.9 1460.5,679.1 1467.5,669.3 1474.5,661.4 1481.5,658.4 1488.5,661.9 1495.5,664.9 1502.5,670.0 1509.5,680.4 1516.5,688.0 1523.5,692.8 1530.5,694.4" fill="none" stroke="#06061e" stroke-width="1" stroke-linejoin="round" shape-rendering="crispEdges"/>
<path d="M366.0,107.5H373.0M368.5,105.0V109.0" stroke="#000" stroke-width="1" fill="none" shape-rendering="crispEdges"/>
<path d="M856.0,196.5H863.0M858.5,194.0V198.0" stroke="#000" stroke-width="1" fill="none" shape-rendering="crispEdges"/>
<path d="M58.0,841.5H65.0M60.5,839.0V843.0" stroke="#000" stroke-width="1" fill="none" shape-rendering="crispEdges"/>
<path d="M1374.0,815.5H1381.0M1376.5,813.0V817.0" stroke="#000" stroke-width="1" fill="none" shape-rendering="crispEdges"/>
<text class="b" x="373.5" y="104.3" fill="#c8485a">130.50</text>
<text class="b" x="864.3" y="193" fill="#c8485a">123.68</text>
<text class="b" x="65" y="853" fill="#5e8c5e">74.27</text>
<text class="b" x="1382" y="827.3" fill="#5e8c5e">76.23</text>
<rect x="1562.5" y="690.5" width="70" height="17" fill="#fffefa" stroke="#b39c48"/>
<rect x="1563.5" y="691.5" width="68" height="15" fill="none" stroke="#fff3a8"/>
<text x="1565" y="702.8" fill="#e0a040">85.83</text>
<path d="M1621.5,690 L1625,686 L1625,690z M1622,684.5h3v1.8h-3z" fill="#dd9a3c"/>
<text x="58" y="10.5" fill="#111" stroke="#111" stroke-width="0.15">美原油连续</text>
<text x="120" y="10.3" fill="#e8a040" style="font-size:10px">&lt;</text>
<text x="127.8" y="10.5" fill="#e8a040">日线</text>
<text x="153" y="10.3" fill="#e8a040" style="font-size:10px">&gt;</text>
<rect x="168.7" y="-1.3" width="10" height="12" fill="#fff" stroke="#2e1f78" stroke-width="1.4"/>
<polyline points="169.5,7.5 172,3 174.3,5.8 178,1" fill="none" stroke="#111" stroke-width="1"/>
<polyline points="169.5,1.5 178,9.8" fill="none" stroke="#111" stroke-width="1"/>
<text x="182" y="10.7" fill="#222" textLength="133.5" lengthAdjust="spacingAndGlyphs">MA(5,10,30,60,100,200)</text>
<text x="321" y="10.7" fill="#222" textLength="59.5" lengthAdjust="spacingAndGlyphs">MA5:85.15</text>
<text x="389.5" y="10.7" fill="#1c1c8c" textLength="66.5" lengthAdjust="spacingAndGlyphs">MA10:85.57</text>
<text x="466" y="10.7" fill="#e23ee2" textLength="66.5" lengthAdjust="spacingAndGlyphs">MA30:84.84</text>
<text x="541.5" y="10.7" fill="#e8a24a" textLength="66.5" lengthAdjust="spacingAndGlyphs">MA60:87.17</text>
<text x="617.5" y="10.7" fill="#808080" textLength="74" lengthAdjust="spacingAndGlyphs">MA100:94.03</text>
<text x="700.5" y="10.7" fill="#d46464" textLength="73" lengthAdjust="spacingAndGlyphs">MA200:98.21</text>
<rect x="1421.5" y="-6.5" width="74" height="18.5" fill="#fff" stroke="#3c4a58"/>
<text x="1428.5" y="9.3" fill="#48535e">全部主题</text>
<path d="M1477.8,2.3 h8.8 l-4.4,7.4 z" fill="#3a4450"/>
<rect x="1499.7" y="-2.5" width="12.8" height="13.5" fill="#fff" stroke="#2c6c9c" stroke-width="1.2"/>
<rect x="1515.7" y="-2.5" width="12.8" height="13.5" fill="#fff" stroke="#2c6c9c" stroke-width="1.2"/>
<rect x="1531.9" y="-2.5" width="12.8" height="13.5" fill="#fff" stroke="#2c6c9c" stroke-width="1.2"/>
<rect x="1547.7" y="-2.5" width="12.8" height="13.5" fill="#fff" stroke="#2c6c9c" stroke-width="1.2"/>
<path d="M1501.5,4.6h9.5M1506.3,-1v10.5" stroke="#2c6c9c" stroke-width="1.5" stroke-dasharray="2.2,1.2" fill="none"/>
<path d="M1519.3,-1v10M1525.3,-1v10M1517,8.8h10.5M1521.5,1.5v3.5M1523.8,1.2l-2,1.9l2,1.9" stroke="#2c6c9c" stroke-width="1.1" fill="none"/>
<path d="M1534.8,-1v10M1533,8.8h10.5" stroke="#2c6c9c" stroke-width="1.1" fill="none"/><path d="M1537,1.6l5.2,3l-5.2,3z" fill="#2c6c9c"/>
<path d="M1553.2,0.8h-2.6v8.6h2.6" stroke="#2c6c9c" stroke-width="1.2" fill="none"/><path d="M1552.5,3.8h3.6v-2l3.4,3l-3.4,3v-2h-3.6z" fill="#1f7fcf"/>
</svg></body></html>
